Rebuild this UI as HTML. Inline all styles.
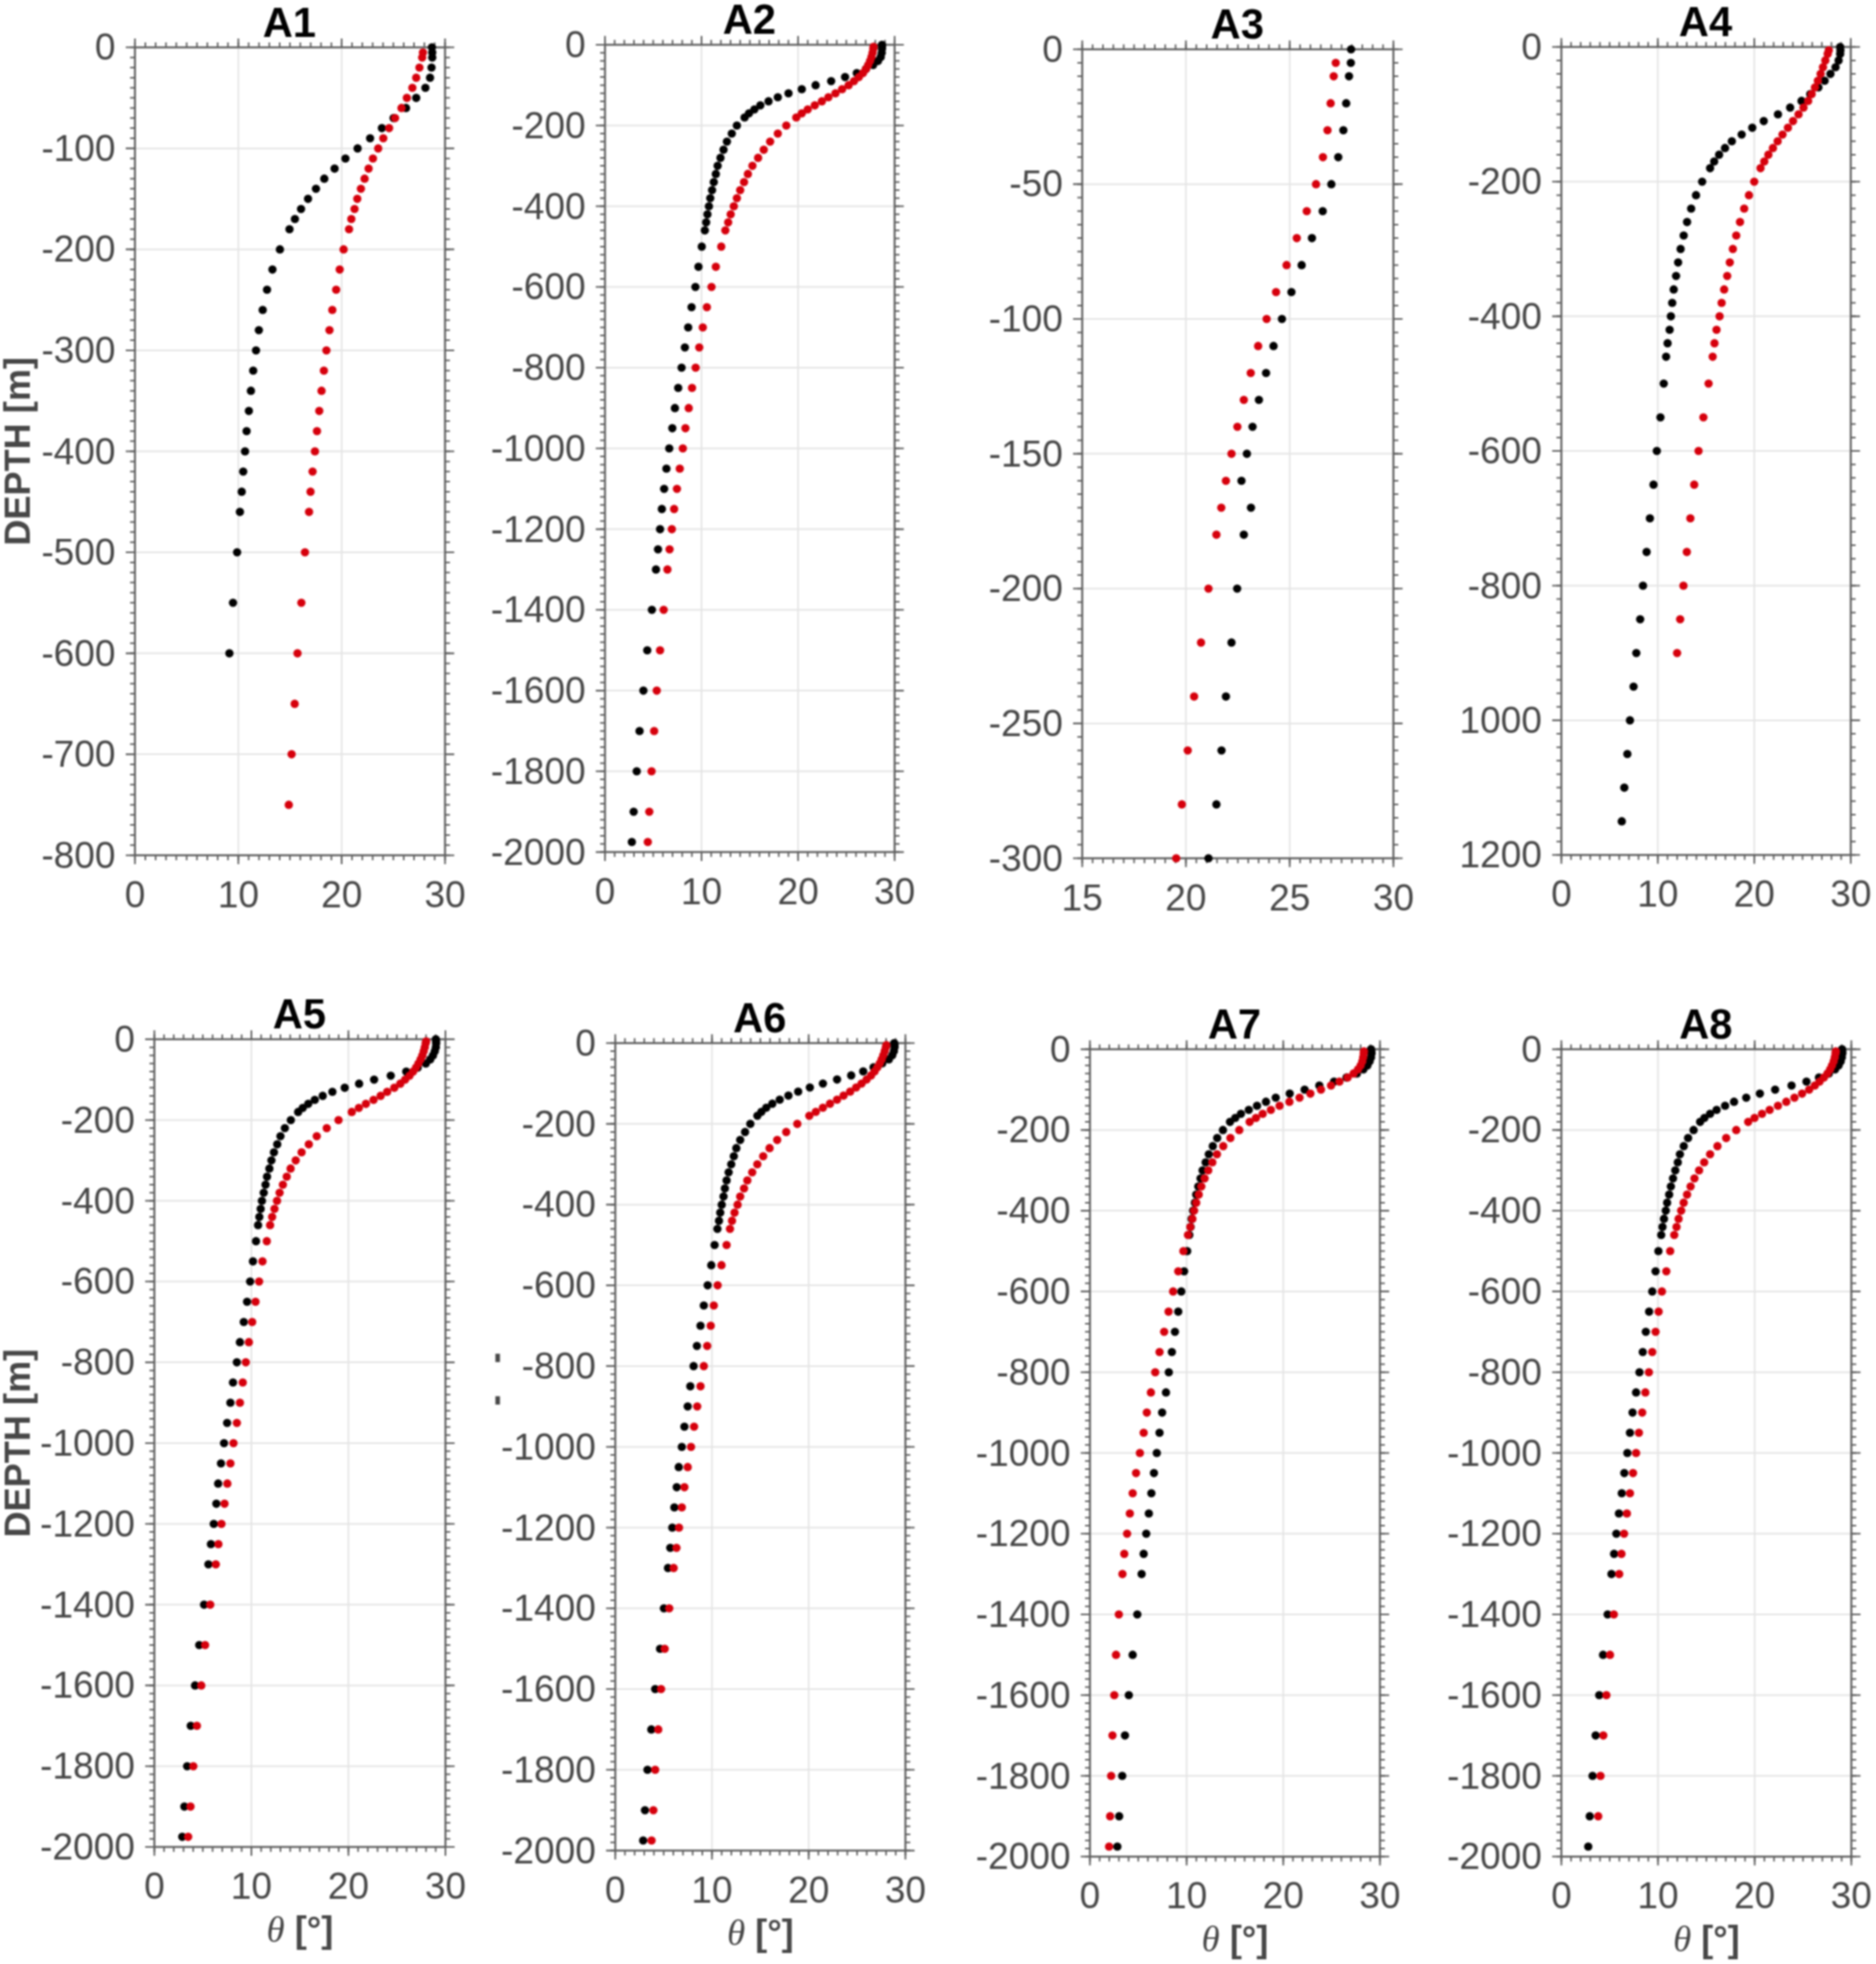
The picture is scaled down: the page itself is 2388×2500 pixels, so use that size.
<!DOCTYPE html>
<html lang="en"><head><meta charset="utf-8"><title>Temperature profiles A1-A8</title>
<style>html,body{margin:0;padding:0;background:#fff}svg{display:block;filter:blur(1px)}text{font-family:"Liberation Sans",sans-serif}.tk{font-size:47.2px;fill:#474747}.tt{font-size:53px;font-weight:bold;fill:#000;text-anchor:middle}.lb{font-size:46px;font-weight:bold;fill:#474747;text-anchor:middle}.th{font-family:"Liberation Serif",serif;font-style:italic;font-weight:normal;font-size:47px}</style></head><body>
<svg width="2388" height="2500" viewBox="0 0 2388 2500">
<rect width="2388" height="2500" fill="#fff"/>
<g id="A1">
<path d="M303.4 60.3V1088.7M434.9 60.3V1088.7M171.8 188.9H566.5M171.8 317.4H566.5M171.8 446H566.5M171.8 574.5H566.5M171.8 703H566.5M171.8 831.6H566.5M171.8 960.1H566.5" stroke="#e4e4e4" stroke-width="2" fill="none"/>
<path d="M171.8 60.3v-6.2M171.8 1088.7v6.2M185 60.3v-6.2M185 1088.7v6.2M198.1 60.3v-6.2M198.1 1088.7v6.2M211.3 60.3v-6.2M211.3 1088.7v6.2M224.4 60.3v-6.2M224.4 1088.7v6.2M237.6 60.3v-6.2M237.6 1088.7v6.2M250.7 60.3v-6.2M250.7 1088.7v6.2M263.9 60.3v-6.2M263.9 1088.7v6.2M277.1 60.3v-6.2M277.1 1088.7v6.2M290.2 60.3v-6.2M290.2 1088.7v6.2M303.4 60.3v-6.2M303.4 1088.7v6.2M316.5 60.3v-6.2M316.5 1088.7v6.2M329.7 60.3v-6.2M329.7 1088.7v6.2M342.8 60.3v-6.2M342.8 1088.7v6.2M356 60.3v-6.2M356 1088.7v6.2M369.1 60.3v-6.2M369.1 1088.7v6.2M382.3 60.3v-6.2M382.3 1088.7v6.2M395.5 60.3v-6.2M395.5 1088.7v6.2M408.6 60.3v-6.2M408.6 1088.7v6.2M421.8 60.3v-6.2M421.8 1088.7v6.2M434.9 60.3v-6.2M434.9 1088.7v6.2M448.1 60.3v-6.2M448.1 1088.7v6.2M461.2 60.3v-6.2M461.2 1088.7v6.2M474.4 60.3v-6.2M474.4 1088.7v6.2M487.6 60.3v-6.2M487.6 1088.7v6.2M500.7 60.3v-6.2M500.7 1088.7v6.2M513.9 60.3v-6.2M513.9 1088.7v6.2M527 60.3v-6.2M527 1088.7v6.2M540.2 60.3v-6.2M540.2 1088.7v6.2M553.3 60.3v-6.2M553.3 1088.7v6.2M566.5 60.3v-6.2M566.5 1088.7v6.2M171.8 60.3h-6.2M566.5 60.3h6.2M171.8 73.2h-6.2M566.5 73.2h6.2M171.8 86h-6.2M566.5 86h6.2M171.8 98.9h-6.2M566.5 98.9h6.2M171.8 111.7h-6.2M566.5 111.7h6.2M171.8 124.6h-6.2M566.5 124.6h6.2M171.8 137.4h-6.2M566.5 137.4h6.2M171.8 150.3h-6.2M566.5 150.3h6.2M171.8 163.1h-6.2M566.5 163.1h6.2M171.8 176h-6.2M566.5 176h6.2M171.8 188.9h-6.2M566.5 188.9h6.2M171.8 201.7h-6.2M566.5 201.7h6.2M171.8 214.6h-6.2M566.5 214.6h6.2M171.8 227.4h-6.2M566.5 227.4h6.2M171.8 240.3h-6.2M566.5 240.3h6.2M171.8 253.1h-6.2M566.5 253.1h6.2M171.8 266h-6.2M566.5 266h6.2M171.8 278.8h-6.2M566.5 278.8h6.2M171.8 291.7h-6.2M566.5 291.7h6.2M171.8 304.5h-6.2M566.5 304.5h6.2M171.8 317.4h-6.2M566.5 317.4h6.2M171.8 330.3h-6.2M566.5 330.3h6.2M171.8 343.1h-6.2M566.5 343.1h6.2M171.8 356h-6.2M566.5 356h6.2M171.8 368.8h-6.2M566.5 368.8h6.2M171.8 381.7h-6.2M566.5 381.7h6.2M171.8 394.5h-6.2M566.5 394.5h6.2M171.8 407.4h-6.2M566.5 407.4h6.2M171.8 420.2h-6.2M566.5 420.2h6.2M171.8 433.1h-6.2M566.5 433.1h6.2M171.8 446h-6.2M566.5 446h6.2M171.8 458.8h-6.2M566.5 458.8h6.2M171.8 471.7h-6.2M566.5 471.7h6.2M171.8 484.5h-6.2M566.5 484.5h6.2M171.8 497.4h-6.2M566.5 497.4h6.2M171.8 510.2h-6.2M566.5 510.2h6.2M171.8 523.1h-6.2M566.5 523.1h6.2M171.8 535.9h-6.2M566.5 535.9h6.2M171.8 548.8h-6.2M566.5 548.8h6.2M171.8 561.6h-6.2M566.5 561.6h6.2M171.8 574.5h-6.2M566.5 574.5h6.2M171.8 587.4h-6.2M566.5 587.4h6.2M171.8 600.2h-6.2M566.5 600.2h6.2M171.8 613.1h-6.2M566.5 613.1h6.2M171.8 625.9h-6.2M566.5 625.9h6.2M171.8 638.8h-6.2M566.5 638.8h6.2M171.8 651.6h-6.2M566.5 651.6h6.2M171.8 664.5h-6.2M566.5 664.5h6.2M171.8 677.3h-6.2M566.5 677.3h6.2M171.8 690.2h-6.2M566.5 690.2h6.2M171.8 703h-6.2M566.5 703h6.2M171.8 715.9h-6.2M566.5 715.9h6.2M171.8 728.8h-6.2M566.5 728.8h6.2M171.8 741.6h-6.2M566.5 741.6h6.2M171.8 754.5h-6.2M566.5 754.5h6.2M171.8 767.3h-6.2M566.5 767.3h6.2M171.8 780.2h-6.2M566.5 780.2h6.2M171.8 793h-6.2M566.5 793h6.2M171.8 805.9h-6.2M566.5 805.9h6.2M171.8 818.7h-6.2M566.5 818.7h6.2M171.8 831.6h-6.2M566.5 831.6h6.2M171.8 844.5h-6.2M566.5 844.5h6.2M171.8 857.3h-6.2M566.5 857.3h6.2M171.8 870.2h-6.2M566.5 870.2h6.2M171.8 883h-6.2M566.5 883h6.2M171.8 895.9h-6.2M566.5 895.9h6.2M171.8 908.7h-6.2M566.5 908.7h6.2M171.8 921.6h-6.2M566.5 921.6h6.2M171.8 934.4h-6.2M566.5 934.4h6.2M171.8 947.3h-6.2M566.5 947.3h6.2M171.8 960.1h-6.2M566.5 960.1h6.2M171.8 973h-6.2M566.5 973h6.2M171.8 985.9h-6.2M566.5 985.9h6.2M171.8 998.7h-6.2M566.5 998.7h6.2M171.8 1011.6h-6.2M566.5 1011.6h6.2M171.8 1024.4h-6.2M566.5 1024.4h6.2M171.8 1037.3h-6.2M566.5 1037.3h6.2M171.8 1050.1h-6.2M566.5 1050.1h6.2M171.8 1063h-6.2M566.5 1063h6.2M171.8 1075.8h-6.2M566.5 1075.8h6.2M171.8 1088.7h-6.2M566.5 1088.7h6.2" stroke="#5e5e5e" stroke-width="2" fill="none"/>
<path d="M171.8 60.3v-11.3M171.8 1088.7v11.3M303.4 60.3v-11.3M303.4 1088.7v11.3M434.9 60.3v-11.3M434.9 1088.7v11.3M566.5 60.3v-11.3M566.5 1088.7v11.3M171.8 60.3h-11.7M566.5 60.3h11.7M171.8 188.9h-11.7M566.5 188.9h11.7M171.8 317.4h-11.7M566.5 317.4h11.7M171.8 446h-11.7M566.5 446h11.7M171.8 574.5h-11.7M566.5 574.5h11.7M171.8 703h-11.7M566.5 703h11.7M171.8 831.6h-11.7M566.5 831.6h11.7M171.8 960.1h-11.7M566.5 960.1h11.7M171.8 1088.7h-11.7M566.5 1088.7h11.7" stroke="#5e5e5e" stroke-width="2.1" fill="none"/>
<rect x="171.8" y="60.3" width="394.7" height="1028.4" fill="none" stroke="#5e5e5e" stroke-width="2.5"/>
<g fill="#000"><circle cx="549.8" cy="60.3" r="5.3"/><circle cx="550.2" cy="66.7" r="5.3"/><circle cx="550.2" cy="73.2" r="5.3"/><circle cx="549.3" cy="86" r="5.3"/><circle cx="547.4" cy="98.9" r="5.3"/><circle cx="541.5" cy="111.7" r="5.3"/><circle cx="529.8" cy="124.6" r="5.3"/><circle cx="516.8" cy="137.4" r="5.3"/><circle cx="501" cy="150.3" r="5.3"/><circle cx="486.1" cy="163.1" r="5.3"/><circle cx="471.1" cy="176" r="5.3"/><circle cx="455.2" cy="188.9" r="5.3"/><circle cx="439.7" cy="201.7" r="5.3"/><circle cx="425.9" cy="214.6" r="5.3"/><circle cx="412.8" cy="227.4" r="5.3"/><circle cx="402.2" cy="240.3" r="5.3"/><circle cx="392.1" cy="253.1" r="5.3"/><circle cx="383.2" cy="266" r="5.3"/><circle cx="375.4" cy="278.8" r="5.3"/><circle cx="368.5" cy="291.7" r="5.3"/><circle cx="356.3" cy="317.4" r="5.3"/><circle cx="346.8" cy="343.1" r="5.3"/><circle cx="339.9" cy="368.8" r="5.3"/><circle cx="334.4" cy="394.5" r="5.3"/><circle cx="329.5" cy="420.2" r="5.3"/><circle cx="325.9" cy="446" r="5.3"/><circle cx="322.3" cy="471.7" r="5.3"/><circle cx="319.4" cy="497.4" r="5.3"/><circle cx="316.8" cy="523.1" r="5.3"/><circle cx="313.9" cy="548.8" r="5.3"/><circle cx="311.9" cy="574.5" r="5.3"/><circle cx="309.6" cy="600.2" r="5.3"/><circle cx="307.7" cy="625.9" r="5.3"/><circle cx="305.4" cy="651.6" r="5.3"/><circle cx="301.8" cy="703" r="5.3"/><circle cx="296.6" cy="767.3" r="5.3"/><circle cx="292" cy="831.6" r="5.3"/></g>
<g fill="#d6000c"><circle cx="538.4" cy="66.7" r="5.3"/><circle cx="537.4" cy="73.2" r="5.3"/><circle cx="533.9" cy="86" r="5.3"/><circle cx="529.8" cy="98.9" r="5.3"/><circle cx="524.9" cy="111.7" r="5.3"/><circle cx="517.9" cy="124.6" r="5.3"/><circle cx="511.1" cy="137.4" r="5.3"/><circle cx="502.9" cy="150.3" r="5.3"/><circle cx="495.3" cy="163.1" r="5.3"/><circle cx="487.9" cy="176" r="5.3"/><circle cx="481.4" cy="188.9" r="5.3"/><circle cx="474.7" cy="201.7" r="5.3"/><circle cx="469.2" cy="214.6" r="5.3"/><circle cx="464.1" cy="227.4" r="5.3"/><circle cx="459.4" cy="240.3" r="5.3"/><circle cx="454.8" cy="253.1" r="5.3"/><circle cx="451.3" cy="266" r="5.3"/><circle cx="447.2" cy="278.8" r="5.3"/><circle cx="444.3" cy="291.7" r="5.3"/><circle cx="437.4" cy="317.4" r="5.3"/><circle cx="432.4" cy="343.1" r="5.3"/><circle cx="427.9" cy="368.8" r="5.3"/><circle cx="423" cy="394.5" r="5.3"/><circle cx="419.4" cy="420.2" r="5.3"/><circle cx="415.5" cy="446" r="5.3"/><circle cx="412.3" cy="471.7" r="5.3"/><circle cx="409.3" cy="497.4" r="5.3"/><circle cx="406.4" cy="523.1" r="5.3"/><circle cx="403.5" cy="548.8" r="5.3"/><circle cx="400.9" cy="574.5" r="5.3"/><circle cx="397.9" cy="600.2" r="5.3"/><circle cx="395.3" cy="625.9" r="5.3"/><circle cx="393.4" cy="651.6" r="5.3"/><circle cx="388.2" cy="703" r="5.3"/><circle cx="383.6" cy="767.3" r="5.3"/><circle cx="378.7" cy="831.6" r="5.3"/><circle cx="375.1" cy="895.9" r="5.3"/><circle cx="371.2" cy="960.1" r="5.3"/><circle cx="367.6" cy="1024.4" r="5.3"/></g>
<g class="tk" text-anchor="end"><text x="147.1" y="76.3">0</text><text x="147.1" y="204.9">-100</text><text x="147.1" y="333.4">-200</text><text x="147.1" y="462">-300</text><text x="147.1" y="590.5">-400</text><text x="147.1" y="719">-500</text><text x="147.1" y="847.6">-600</text><text x="147.1" y="976.1">-700</text><text x="147.1" y="1104.7">-800</text></g>
<g class="tk" text-anchor="middle"><text x="171.8" y="1154.7">0</text><text x="303.4" y="1154.7">10</text><text x="434.9" y="1154.7">20</text><text x="566.5" y="1154.7">30</text></g>
<text class="tt" x="368.4" y="46.7">A1</text>
<text class="lb" transform="translate(38 574.5) rotate(-90)">DEPTH [m]</text>
</g>
<g id="A2">
<path d="M893 57V1084.6M1015.9 57V1084.6M770.1 159.8H1138.8M770.1 262.5H1138.8M770.1 365.3H1138.8M770.1 468H1138.8M770.1 570.8H1138.8M770.1 673.6H1138.8M770.1 776.3H1138.8M770.1 879.1H1138.8M770.1 981.8H1138.8" stroke="#e4e4e4" stroke-width="2" fill="none"/>
<path d="M770.1 57v-6.2M770.1 1084.6v6.2M782.4 57v-6.2M782.4 1084.6v6.2M794.7 57v-6.2M794.7 1084.6v6.2M807 57v-6.2M807 1084.6v6.2M819.3 57v-6.2M819.3 1084.6v6.2M831.5 57v-6.2M831.5 1084.6v6.2M843.8 57v-6.2M843.8 1084.6v6.2M856.1 57v-6.2M856.1 1084.6v6.2M868.4 57v-6.2M868.4 1084.6v6.2M880.7 57v-6.2M880.7 1084.6v6.2M893 57v-6.2M893 1084.6v6.2M905.3 57v-6.2M905.3 1084.6v6.2M917.6 57v-6.2M917.6 1084.6v6.2M929.9 57v-6.2M929.9 1084.6v6.2M942.2 57v-6.2M942.2 1084.6v6.2M954.5 57v-6.2M954.5 1084.6v6.2M966.7 57v-6.2M966.7 1084.6v6.2M979 57v-6.2M979 1084.6v6.2M991.3 57v-6.2M991.3 1084.6v6.2M1003.6 57v-6.2M1003.6 1084.6v6.2M1015.9 57v-6.2M1015.9 1084.6v6.2M1028.2 57v-6.2M1028.2 1084.6v6.2M1040.5 57v-6.2M1040.5 1084.6v6.2M1052.8 57v-6.2M1052.8 1084.6v6.2M1065.1 57v-6.2M1065.1 1084.6v6.2M1077.3 57v-6.2M1077.3 1084.6v6.2M1089.6 57v-6.2M1089.6 1084.6v6.2M1101.9 57v-6.2M1101.9 1084.6v6.2M1114.2 57v-6.2M1114.2 1084.6v6.2M1126.5 57v-6.2M1126.5 1084.6v6.2M1138.8 57v-6.2M1138.8 1084.6v6.2M770.1 57h-6.2M1138.8 57h6.2M770.1 67.3h-6.2M1138.8 67.3h6.2M770.1 77.6h-6.2M1138.8 77.6h6.2M770.1 87.8h-6.2M1138.8 87.8h6.2M770.1 98.1h-6.2M1138.8 98.1h6.2M770.1 108.4h-6.2M1138.8 108.4h6.2M770.1 118.7h-6.2M1138.8 118.7h6.2M770.1 128.9h-6.2M1138.8 128.9h6.2M770.1 139.2h-6.2M1138.8 139.2h6.2M770.1 149.5h-6.2M1138.8 149.5h6.2M770.1 159.8h-6.2M1138.8 159.8h6.2M770.1 170h-6.2M1138.8 170h6.2M770.1 180.3h-6.2M1138.8 180.3h6.2M770.1 190.6h-6.2M1138.8 190.6h6.2M770.1 200.9h-6.2M1138.8 200.9h6.2M770.1 211.1h-6.2M1138.8 211.1h6.2M770.1 221.4h-6.2M1138.8 221.4h6.2M770.1 231.7h-6.2M1138.8 231.7h6.2M770.1 242h-6.2M1138.8 242h6.2M770.1 252.2h-6.2M1138.8 252.2h6.2M770.1 262.5h-6.2M1138.8 262.5h6.2M770.1 272.8h-6.2M1138.8 272.8h6.2M770.1 283.1h-6.2M1138.8 283.1h6.2M770.1 293.3h-6.2M1138.8 293.3h6.2M770.1 303.6h-6.2M1138.8 303.6h6.2M770.1 313.9h-6.2M1138.8 313.9h6.2M770.1 324.2h-6.2M1138.8 324.2h6.2M770.1 334.5h-6.2M1138.8 334.5h6.2M770.1 344.7h-6.2M1138.8 344.7h6.2M770.1 355h-6.2M1138.8 355h6.2M770.1 365.3h-6.2M1138.8 365.3h6.2M770.1 375.6h-6.2M1138.8 375.6h6.2M770.1 385.8h-6.2M1138.8 385.8h6.2M770.1 396.1h-6.2M1138.8 396.1h6.2M770.1 406.4h-6.2M1138.8 406.4h6.2M770.1 416.7h-6.2M1138.8 416.7h6.2M770.1 426.9h-6.2M1138.8 426.9h6.2M770.1 437.2h-6.2M1138.8 437.2h6.2M770.1 447.5h-6.2M1138.8 447.5h6.2M770.1 457.8h-6.2M1138.8 457.8h6.2M770.1 468h-6.2M1138.8 468h6.2M770.1 478.3h-6.2M1138.8 478.3h6.2M770.1 488.6h-6.2M1138.8 488.6h6.2M770.1 498.9h-6.2M1138.8 498.9h6.2M770.1 509.1h-6.2M1138.8 509.1h6.2M770.1 519.4h-6.2M1138.8 519.4h6.2M770.1 529.7h-6.2M1138.8 529.7h6.2M770.1 540h-6.2M1138.8 540h6.2M770.1 550.2h-6.2M1138.8 550.2h6.2M770.1 560.5h-6.2M1138.8 560.5h6.2M770.1 570.8h-6.2M1138.8 570.8h6.2M770.1 581.1h-6.2M1138.8 581.1h6.2M770.1 591.4h-6.2M1138.8 591.4h6.2M770.1 601.6h-6.2M1138.8 601.6h6.2M770.1 611.9h-6.2M1138.8 611.9h6.2M770.1 622.2h-6.2M1138.8 622.2h6.2M770.1 632.5h-6.2M1138.8 632.5h6.2M770.1 642.7h-6.2M1138.8 642.7h6.2M770.1 653h-6.2M1138.8 653h6.2M770.1 663.3h-6.2M1138.8 663.3h6.2M770.1 673.6h-6.2M1138.8 673.6h6.2M770.1 683.8h-6.2M1138.8 683.8h6.2M770.1 694.1h-6.2M1138.8 694.1h6.2M770.1 704.4h-6.2M1138.8 704.4h6.2M770.1 714.7h-6.2M1138.8 714.7h6.2M770.1 724.9h-6.2M1138.8 724.9h6.2M770.1 735.2h-6.2M1138.8 735.2h6.2M770.1 745.5h-6.2M1138.8 745.5h6.2M770.1 755.8h-6.2M1138.8 755.8h6.2M770.1 766h-6.2M1138.8 766h6.2M770.1 776.3h-6.2M1138.8 776.3h6.2M770.1 786.6h-6.2M1138.8 786.6h6.2M770.1 796.9h-6.2M1138.8 796.9h6.2M770.1 807.1h-6.2M1138.8 807.1h6.2M770.1 817.4h-6.2M1138.8 817.4h6.2M770.1 827.7h-6.2M1138.8 827.7h6.2M770.1 838h-6.2M1138.8 838h6.2M770.1 848.3h-6.2M1138.8 848.3h6.2M770.1 858.5h-6.2M1138.8 858.5h6.2M770.1 868.8h-6.2M1138.8 868.8h6.2M770.1 879.1h-6.2M1138.8 879.1h6.2M770.1 889.4h-6.2M1138.8 889.4h6.2M770.1 899.6h-6.2M1138.8 899.6h6.2M770.1 909.9h-6.2M1138.8 909.9h6.2M770.1 920.2h-6.2M1138.8 920.2h6.2M770.1 930.5h-6.2M1138.8 930.5h6.2M770.1 940.7h-6.2M1138.8 940.7h6.2M770.1 951h-6.2M1138.8 951h6.2M770.1 961.3h-6.2M1138.8 961.3h6.2M770.1 971.6h-6.2M1138.8 971.6h6.2M770.1 981.8h-6.2M1138.8 981.8h6.2M770.1 992.1h-6.2M1138.8 992.1h6.2M770.1 1002.4h-6.2M1138.8 1002.4h6.2M770.1 1012.7h-6.2M1138.8 1012.7h6.2M770.1 1022.9h-6.2M1138.8 1022.9h6.2M770.1 1033.2h-6.2M1138.8 1033.2h6.2M770.1 1043.5h-6.2M1138.8 1043.5h6.2M770.1 1053.8h-6.2M1138.8 1053.8h6.2M770.1 1064h-6.2M1138.8 1064h6.2M770.1 1074.3h-6.2M1138.8 1074.3h6.2M770.1 1084.6h-6.2M1138.8 1084.6h6.2" stroke="#5e5e5e" stroke-width="2" fill="none"/>
<path d="M770.1 57v-11.3M770.1 1084.6v11.3M893 57v-11.3M893 1084.6v11.3M1015.9 57v-11.3M1015.9 1084.6v11.3M1138.8 57v-11.3M1138.8 1084.6v11.3M770.1 57h-11.7M1138.8 57h11.7M770.1 159.8h-11.7M1138.8 159.8h11.7M770.1 262.5h-11.7M1138.8 262.5h11.7M770.1 365.3h-11.7M1138.8 365.3h11.7M770.1 468h-11.7M1138.8 468h11.7M770.1 570.8h-11.7M1138.8 570.8h11.7M770.1 673.6h-11.7M1138.8 673.6h11.7M770.1 776.3h-11.7M1138.8 776.3h11.7M770.1 879.1h-11.7M1138.8 879.1h11.7M770.1 981.8h-11.7M1138.8 981.8h11.7M770.1 1084.6h-11.7M1138.8 1084.6h11.7" stroke="#5e5e5e" stroke-width="2.1" fill="none"/>
<rect x="770.1" y="57" width="368.7" height="1027.6" fill="none" stroke="#5e5e5e" stroke-width="2.5"/>
<g fill="#000"><circle cx="1122.7" cy="57" r="5.3"/><circle cx="1122.7" cy="59.6" r="5.3"/><circle cx="1122.7" cy="62.1" r="5.3"/><circle cx="1122.4" cy="67.3" r="5.3"/><circle cx="1121.1" cy="72.4" r="5.3"/><circle cx="1117.6" cy="77.6" r="5.3"/><circle cx="1111.4" cy="82.7" r="5.3"/><circle cx="1102.3" cy="87.8" r="5.3"/><circle cx="1090.6" cy="93" r="5.3"/><circle cx="1075.7" cy="98.1" r="5.3"/><circle cx="1058" cy="103.2" r="5.3"/><circle cx="1038.2" cy="108.4" r="5.3"/><circle cx="1020.6" cy="113.5" r="5.3"/><circle cx="1003.7" cy="118.7" r="5.3"/><circle cx="990.1" cy="123.8" r="5.3"/><circle cx="978.3" cy="128.9" r="5.3"/><circle cx="967.9" cy="134.1" r="5.3"/><circle cx="960.3" cy="139.2" r="5.3"/><circle cx="953.4" cy="144.3" r="5.3"/><circle cx="947.8" cy="149.5" r="5.3"/><circle cx="938" cy="159.8" r="5.3"/><circle cx="931.5" cy="170" r="5.3"/><circle cx="925.3" cy="180.3" r="5.3"/><circle cx="921" cy="190.6" r="5.3"/><circle cx="917.1" cy="200.9" r="5.3"/><circle cx="913.5" cy="211.1" r="5.3"/><circle cx="911.2" cy="221.4" r="5.3"/><circle cx="908.6" cy="231.7" r="5.3"/><circle cx="906.4" cy="242" r="5.3"/><circle cx="904.1" cy="252.2" r="5.3"/><circle cx="902.4" cy="262.5" r="5.3"/><circle cx="900.5" cy="272.8" r="5.3"/><circle cx="898.9" cy="283.1" r="5.3"/><circle cx="897.2" cy="293.3" r="5.3"/><circle cx="893.3" cy="313.9" r="5.3"/><circle cx="889.1" cy="339.6" r="5.3"/><circle cx="885.2" cy="365.3" r="5.3"/><circle cx="880.3" cy="391" r="5.3"/><circle cx="876" cy="416.7" r="5.3"/><circle cx="871.8" cy="442.3" r="5.3"/><circle cx="867.6" cy="468" r="5.3"/><circle cx="863.3" cy="493.7" r="5.3"/><circle cx="859.1" cy="519.4" r="5.3"/><circle cx="855.8" cy="545.1" r="5.3"/><circle cx="851.9" cy="570.8" r="5.3"/><circle cx="848.3" cy="596.5" r="5.3"/><circle cx="845.4" cy="622.2" r="5.3"/><circle cx="842.5" cy="647.9" r="5.3"/><circle cx="840.2" cy="673.6" r="5.3"/><circle cx="837.6" cy="699.2" r="5.3"/><circle cx="835" cy="724.9" r="5.3"/><circle cx="829.8" cy="776.3" r="5.3"/><circle cx="823.9" cy="827.7" r="5.3"/><circle cx="819" cy="879.1" r="5.3"/><circle cx="814.1" cy="930.5" r="5.3"/><circle cx="810.5" cy="981.8" r="5.3"/><circle cx="806.6" cy="1033.2" r="5.3"/><circle cx="804.3" cy="1071.8" r="5.3"/></g>
<g fill="#d6000c"><circle cx="1112" cy="59.6" r="5.3"/><circle cx="1111.6" cy="62.1" r="5.3"/><circle cx="1110.7" cy="67.3" r="5.3"/><circle cx="1109.3" cy="72.4" r="5.3"/><circle cx="1107.5" cy="77.6" r="5.3"/><circle cx="1105.1" cy="82.7" r="5.3"/><circle cx="1102.3" cy="87.8" r="5.3"/><circle cx="1098.5" cy="93" r="5.3"/><circle cx="1093.3" cy="98.1" r="5.3"/><circle cx="1087.1" cy="103.2" r="5.3"/><circle cx="1080.2" cy="108.4" r="5.3"/><circle cx="1071.9" cy="113.5" r="5.3"/><circle cx="1063.5" cy="118.7" r="5.3"/><circle cx="1054.5" cy="123.8" r="5.3"/><circle cx="1046.2" cy="128.9" r="5.3"/><circle cx="1037.2" cy="134.1" r="5.3"/><circle cx="1028.2" cy="139.2" r="5.3"/><circle cx="1020.6" cy="144.3" r="5.3"/><circle cx="1013.6" cy="149.5" r="5.3"/><circle cx="1000.9" cy="159.8" r="5.3"/><circle cx="990.1" cy="170" r="5.3"/><circle cx="980.3" cy="180.3" r="5.3"/><circle cx="972.2" cy="190.6" r="5.3"/><circle cx="965" cy="200.9" r="5.3"/><circle cx="957.8" cy="211.1" r="5.3"/><circle cx="952" cy="221.4" r="5.3"/><circle cx="947.1" cy="231.7" r="5.3"/><circle cx="942.2" cy="242" r="5.3"/><circle cx="938" cy="252.2" r="5.3"/><circle cx="934.1" cy="262.5" r="5.3"/><circle cx="930.1" cy="272.8" r="5.3"/><circle cx="926.9" cy="283.1" r="5.3"/><circle cx="923.3" cy="293.3" r="5.3"/><circle cx="918.1" cy="313.9" r="5.3"/><circle cx="911.2" cy="339.6" r="5.3"/><circle cx="905.7" cy="365.3" r="5.3"/><circle cx="899.8" cy="391" r="5.3"/><circle cx="894.6" cy="416.7" r="5.3"/><circle cx="890.1" cy="442.3" r="5.3"/><circle cx="885.5" cy="468" r="5.3"/><circle cx="880.9" cy="493.7" r="5.3"/><circle cx="876.7" cy="519.4" r="5.3"/><circle cx="872.5" cy="545.1" r="5.3"/><circle cx="869.2" cy="570.8" r="5.3"/><circle cx="865.3" cy="596.5" r="5.3"/><circle cx="861.7" cy="622.2" r="5.3"/><circle cx="858.1" cy="647.9" r="5.3"/><circle cx="855.2" cy="673.6" r="5.3"/><circle cx="852.3" cy="699.2" r="5.3"/><circle cx="849.6" cy="724.9" r="5.3"/><circle cx="844.8" cy="776.3" r="5.3"/><circle cx="840.2" cy="827.7" r="5.3"/><circle cx="836" cy="879.1" r="5.3"/><circle cx="832.7" cy="930.5" r="5.3"/><circle cx="829.4" cy="981.8" r="5.3"/><circle cx="826.5" cy="1033.2" r="5.3"/><circle cx="824.6" cy="1071.8" r="5.3"/></g>
<g class="tk" text-anchor="end"><text x="745.4" y="73">0</text><text x="745.4" y="175.8">-200</text><text x="745.4" y="278.5">-400</text><text x="745.4" y="381.3">-600</text><text x="745.4" y="484">-800</text><text x="745.4" y="586.8">-1000</text><text x="745.4" y="689.6">-1200</text><text x="745.4" y="792.3">-1400</text><text x="745.4" y="895.1">-1600</text><text x="745.4" y="997.8">-1800</text><text x="745.4" y="1100.6">-2000</text></g>
<g class="tk" text-anchor="middle"><text x="770.1" y="1150.6">0</text><text x="893" y="1150.6">10</text><text x="1015.9" y="1150.6">20</text><text x="1138.8" y="1150.6">30</text></g>
<text class="tt" x="953.8" y="43.4">A2</text>
</g>
<g id="A3">
<path d="M1509.6 62.8V1092.5M1641.7 62.8V1092.5M1377.6 234.4H1773.7M1377.6 406H1773.7M1377.6 577.6H1773.7M1377.6 749.3H1773.7M1377.6 920.9H1773.7" stroke="#e4e4e4" stroke-width="2" fill="none"/>
<path d="M1377.6 62.8v-6.2M1377.6 1092.5v6.2M1390.8 62.8v-6.2M1390.8 1092.5v6.2M1404 62.8v-6.2M1404 1092.5v6.2M1417.2 62.8v-6.2M1417.2 1092.5v6.2M1430.4 62.8v-6.2M1430.4 1092.5v6.2M1443.6 62.8v-6.2M1443.6 1092.5v6.2M1456.8 62.8v-6.2M1456.8 1092.5v6.2M1470 62.8v-6.2M1470 1092.5v6.2M1483.2 62.8v-6.2M1483.2 1092.5v6.2M1496.4 62.8v-6.2M1496.4 1092.5v6.2M1509.6 62.8v-6.2M1509.6 1092.5v6.2M1522.8 62.8v-6.2M1522.8 1092.5v6.2M1536 62.8v-6.2M1536 1092.5v6.2M1549.2 62.8v-6.2M1549.2 1092.5v6.2M1562.4 62.8v-6.2M1562.4 1092.5v6.2M1575.7 62.8v-6.2M1575.7 1092.5v6.2M1588.9 62.8v-6.2M1588.9 1092.5v6.2M1602.1 62.8v-6.2M1602.1 1092.5v6.2M1615.3 62.8v-6.2M1615.3 1092.5v6.2M1628.5 62.8v-6.2M1628.5 1092.5v6.2M1641.7 62.8v-6.2M1641.7 1092.5v6.2M1654.9 62.8v-6.2M1654.9 1092.5v6.2M1668.1 62.8v-6.2M1668.1 1092.5v6.2M1681.3 62.8v-6.2M1681.3 1092.5v6.2M1694.5 62.8v-6.2M1694.5 1092.5v6.2M1707.7 62.8v-6.2M1707.7 1092.5v6.2M1720.9 62.8v-6.2M1720.9 1092.5v6.2M1734.1 62.8v-6.2M1734.1 1092.5v6.2M1747.3 62.8v-6.2M1747.3 1092.5v6.2M1760.5 62.8v-6.2M1760.5 1092.5v6.2M1773.7 62.8v-6.2M1773.7 1092.5v6.2M1377.6 62.8h-6.2M1773.7 62.8h6.2M1377.6 80h-6.2M1773.7 80h6.2M1377.6 97.1h-6.2M1773.7 97.1h6.2M1377.6 114.3h-6.2M1773.7 114.3h6.2M1377.6 131.4h-6.2M1773.7 131.4h6.2M1377.6 148.6h-6.2M1773.7 148.6h6.2M1377.6 165.8h-6.2M1773.7 165.8h6.2M1377.6 182.9h-6.2M1773.7 182.9h6.2M1377.6 200.1h-6.2M1773.7 200.1h6.2M1377.6 217.3h-6.2M1773.7 217.3h6.2M1377.6 234.4h-6.2M1773.7 234.4h6.2M1377.6 251.6h-6.2M1773.7 251.6h6.2M1377.6 268.7h-6.2M1773.7 268.7h6.2M1377.6 285.9h-6.2M1773.7 285.9h6.2M1377.6 303.1h-6.2M1773.7 303.1h6.2M1377.6 320.2h-6.2M1773.7 320.2h6.2M1377.6 337.4h-6.2M1773.7 337.4h6.2M1377.6 354.5h-6.2M1773.7 354.5h6.2M1377.6 371.7h-6.2M1773.7 371.7h6.2M1377.6 388.9h-6.2M1773.7 388.9h6.2M1377.6 406h-6.2M1773.7 406h6.2M1377.6 423.2h-6.2M1773.7 423.2h6.2M1377.6 440.4h-6.2M1773.7 440.4h6.2M1377.6 457.5h-6.2M1773.7 457.5h6.2M1377.6 474.7h-6.2M1773.7 474.7h6.2M1377.6 491.8h-6.2M1773.7 491.8h6.2M1377.6 509h-6.2M1773.7 509h6.2M1377.6 526.2h-6.2M1773.7 526.2h6.2M1377.6 543.3h-6.2M1773.7 543.3h6.2M1377.6 560.5h-6.2M1773.7 560.5h6.2M1377.6 577.6h-6.2M1773.7 577.6h6.2M1377.6 594.8h-6.2M1773.7 594.8h6.2M1377.6 612h-6.2M1773.7 612h6.2M1377.6 629.1h-6.2M1773.7 629.1h6.2M1377.6 646.3h-6.2M1773.7 646.3h6.2M1377.6 663.5h-6.2M1773.7 663.5h6.2M1377.6 680.6h-6.2M1773.7 680.6h6.2M1377.6 697.8h-6.2M1773.7 697.8h6.2M1377.6 714.9h-6.2M1773.7 714.9h6.2M1377.6 732.1h-6.2M1773.7 732.1h6.2M1377.6 749.3h-6.2M1773.7 749.3h6.2M1377.6 766.4h-6.2M1773.7 766.4h6.2M1377.6 783.6h-6.2M1773.7 783.6h6.2M1377.6 800.8h-6.2M1773.7 800.8h6.2M1377.6 817.9h-6.2M1773.7 817.9h6.2M1377.6 835.1h-6.2M1773.7 835.1h6.2M1377.6 852.2h-6.2M1773.7 852.2h6.2M1377.6 869.4h-6.2M1773.7 869.4h6.2M1377.6 886.6h-6.2M1773.7 886.6h6.2M1377.6 903.7h-6.2M1773.7 903.7h6.2M1377.6 920.9h-6.2M1773.7 920.9h6.2M1377.6 938h-6.2M1773.7 938h6.2M1377.6 955.2h-6.2M1773.7 955.2h6.2M1377.6 972.4h-6.2M1773.7 972.4h6.2M1377.6 989.5h-6.2M1773.7 989.5h6.2M1377.6 1006.7h-6.2M1773.7 1006.7h6.2M1377.6 1023.9h-6.2M1773.7 1023.9h6.2M1377.6 1041h-6.2M1773.7 1041h6.2M1377.6 1058.2h-6.2M1773.7 1058.2h6.2M1377.6 1075.3h-6.2M1773.7 1075.3h6.2M1377.6 1092.5h-6.2M1773.7 1092.5h6.2" stroke="#5e5e5e" stroke-width="2" fill="none"/>
<path d="M1377.6 62.8v-11.3M1377.6 1092.5v11.3M1509.6 62.8v-11.3M1509.6 1092.5v11.3M1641.7 62.8v-11.3M1641.7 1092.5v11.3M1773.7 62.8v-11.3M1773.7 1092.5v11.3M1377.6 62.8h-11.7M1773.7 62.8h11.7M1377.6 234.4h-11.7M1773.7 234.4h11.7M1377.6 406h-11.7M1773.7 406h11.7M1377.6 577.6h-11.7M1773.7 577.6h11.7M1377.6 749.3h-11.7M1773.7 749.3h11.7M1377.6 920.9h-11.7M1773.7 920.9h11.7M1377.6 1092.5h-11.7M1773.7 1092.5h11.7" stroke="#5e5e5e" stroke-width="2.1" fill="none"/>
<rect x="1377.6" y="62.8" width="396.1" height="1029.7" fill="none" stroke="#5e5e5e" stroke-width="2.5"/>
<g fill="#000"><circle cx="1719.8" cy="62.8" r="5.3"/><circle cx="1719.5" cy="80" r="5.3"/><circle cx="1717.2" cy="97.1" r="5.3"/><circle cx="1713.6" cy="131.4" r="5.3"/><circle cx="1710" cy="165.8" r="5.3"/><circle cx="1703.5" cy="200.1" r="5.3"/><circle cx="1694.7" cy="234.4" r="5.3"/><circle cx="1683.7" cy="268.7" r="5.3"/><circle cx="1670" cy="303.1" r="5.3"/><circle cx="1656.9" cy="337.4" r="5.3"/><circle cx="1643.9" cy="371.7" r="5.3"/><circle cx="1631.8" cy="406" r="5.3"/><circle cx="1621.1" cy="440.4" r="5.3"/><circle cx="1611.6" cy="474.7" r="5.3"/><circle cx="1602.5" cy="509" r="5.3"/><circle cx="1594.4" cy="543.3" r="5.3"/><circle cx="1587.2" cy="577.6" r="5.3"/><circle cx="1580.3" cy="612" r="5.3"/><circle cx="1592.4" cy="646.3" r="5.3"/><circle cx="1583.3" cy="680.6" r="5.3"/><circle cx="1574.8" cy="749.3" r="5.3"/><circle cx="1567.6" cy="817.9" r="5.3"/><circle cx="1560.5" cy="886.6" r="5.3"/><circle cx="1554.9" cy="955.2" r="5.3"/><circle cx="1548.4" cy="1023.9" r="5.3"/><circle cx="1538.3" cy="1092.5" r="5.3"/></g>
<g fill="#d6000c"><circle cx="1700.3" cy="80" r="5.3"/><circle cx="1697.7" cy="97.1" r="5.3"/><circle cx="1693.8" cy="131.4" r="5.3"/><circle cx="1689.8" cy="165.8" r="5.3"/><circle cx="1684" cy="200.1" r="5.3"/><circle cx="1675.2" cy="234.4" r="5.3"/><circle cx="1663.4" cy="268.7" r="5.3"/><circle cx="1650.7" cy="303.1" r="5.3"/><circle cx="1637.7" cy="337.4" r="5.3"/><circle cx="1624.3" cy="371.7" r="5.3"/><circle cx="1612.3" cy="406" r="5.3"/><circle cx="1601.5" cy="440.4" r="5.3"/><circle cx="1592.1" cy="474.7" r="5.3"/><circle cx="1583.3" cy="509" r="5.3"/><circle cx="1575.1" cy="543.3" r="5.3"/><circle cx="1567.6" cy="577.6" r="5.3"/><circle cx="1560.5" cy="612" r="5.3"/><circle cx="1554.6" cy="646.3" r="5.3"/><circle cx="1548.4" cy="680.6" r="5.3"/><circle cx="1538.3" cy="749.3" r="5.3"/><circle cx="1528.8" cy="817.9" r="5.3"/><circle cx="1520" cy="886.6" r="5.3"/><circle cx="1511.9" cy="955.2" r="5.3"/><circle cx="1504.4" cy="1023.9" r="5.3"/><circle cx="1497.2" cy="1092.5" r="5.3"/></g>
<g class="tk" text-anchor="end"><text x="1352.9" y="78.8">0</text><text x="1352.9" y="250.4">-50</text><text x="1352.9" y="422">-100</text><text x="1352.9" y="593.6">-150</text><text x="1352.9" y="765.3">-200</text><text x="1352.9" y="936.9">-250</text><text x="1352.9" y="1108.5">-300</text></g>
<g class="tk" text-anchor="middle"><text x="1377.6" y="1158.5">15</text><text x="1509.6" y="1158.5">20</text><text x="1641.7" y="1158.5">25</text><text x="1773.7" y="1158.5">30</text></g>
<text class="tt" x="1575" y="49.2">A3</text>
</g>
<g id="A4">
<path d="M2110.3 59.8V1088.3M2233.1 59.8V1088.3M1987.5 231.2H2355.9M1987.5 402.6H2355.9M1987.5 574H2355.9M1987.5 745.5H2355.9M1987.5 916.9H2355.9" stroke="#e4e4e4" stroke-width="2" fill="none"/>
<path d="M1987.5 59.8v-6.2M1987.5 1088.3v6.2M1999.8 59.8v-6.2M1999.8 1088.3v6.2M2012.1 59.8v-6.2M2012.1 1088.3v6.2M2024.3 59.8v-6.2M2024.3 1088.3v6.2M2036.6 59.8v-6.2M2036.6 1088.3v6.2M2048.9 59.8v-6.2M2048.9 1088.3v6.2M2061.2 59.8v-6.2M2061.2 1088.3v6.2M2073.5 59.8v-6.2M2073.5 1088.3v6.2M2085.7 59.8v-6.2M2085.7 1088.3v6.2M2098 59.8v-6.2M2098 1088.3v6.2M2110.3 59.8v-6.2M2110.3 1088.3v6.2M2122.6 59.8v-6.2M2122.6 1088.3v6.2M2134.9 59.8v-6.2M2134.9 1088.3v6.2M2147.1 59.8v-6.2M2147.1 1088.3v6.2M2159.4 59.8v-6.2M2159.4 1088.3v6.2M2171.7 59.8v-6.2M2171.7 1088.3v6.2M2184 59.8v-6.2M2184 1088.3v6.2M2196.3 59.8v-6.2M2196.3 1088.3v6.2M2208.5 59.8v-6.2M2208.5 1088.3v6.2M2220.8 59.8v-6.2M2220.8 1088.3v6.2M2233.1 59.8v-6.2M2233.1 1088.3v6.2M2245.4 59.8v-6.2M2245.4 1088.3v6.2M2257.7 59.8v-6.2M2257.7 1088.3v6.2M2269.9 59.8v-6.2M2269.9 1088.3v6.2M2282.2 59.8v-6.2M2282.2 1088.3v6.2M2294.5 59.8v-6.2M2294.5 1088.3v6.2M2306.8 59.8v-6.2M2306.8 1088.3v6.2M2319.1 59.8v-6.2M2319.1 1088.3v6.2M2331.3 59.8v-6.2M2331.3 1088.3v6.2M2343.6 59.8v-6.2M2343.6 1088.3v6.2M2355.9 59.8v-6.2M2355.9 1088.3v6.2M1987.5 59.8h-6.2M2355.9 59.8h6.2M1987.5 76.9h-6.2M2355.9 76.9h6.2M1987.5 94.1h-6.2M2355.9 94.1h6.2M1987.5 111.2h-6.2M2355.9 111.2h6.2M1987.5 128.4h-6.2M2355.9 128.4h6.2M1987.5 145.5h-6.2M2355.9 145.5h6.2M1987.5 162.6h-6.2M2355.9 162.6h6.2M1987.5 179.8h-6.2M2355.9 179.8h6.2M1987.5 196.9h-6.2M2355.9 196.9h6.2M1987.5 214.1h-6.2M2355.9 214.1h6.2M1987.5 231.2h-6.2M2355.9 231.2h6.2M1987.5 248.4h-6.2M2355.9 248.4h6.2M1987.5 265.5h-6.2M2355.9 265.5h6.2M1987.5 282.6h-6.2M2355.9 282.6h6.2M1987.5 299.8h-6.2M2355.9 299.8h6.2M1987.5 316.9h-6.2M2355.9 316.9h6.2M1987.5 334.1h-6.2M2355.9 334.1h6.2M1987.5 351.2h-6.2M2355.9 351.2h6.2M1987.5 368.4h-6.2M2355.9 368.4h6.2M1987.5 385.5h-6.2M2355.9 385.5h6.2M1987.5 402.6h-6.2M2355.9 402.6h6.2M1987.5 419.8h-6.2M2355.9 419.8h6.2M1987.5 436.9h-6.2M2355.9 436.9h6.2M1987.5 454.1h-6.2M2355.9 454.1h6.2M1987.5 471.2h-6.2M2355.9 471.2h6.2M1987.5 488.3h-6.2M2355.9 488.3h6.2M1987.5 505.5h-6.2M2355.9 505.5h6.2M1987.5 522.6h-6.2M2355.9 522.6h6.2M1987.5 539.8h-6.2M2355.9 539.8h6.2M1987.5 556.9h-6.2M2355.9 556.9h6.2M1987.5 574h-6.2M2355.9 574h6.2M1987.5 591.2h-6.2M2355.9 591.2h6.2M1987.5 608.3h-6.2M2355.9 608.3h6.2M1987.5 625.5h-6.2M2355.9 625.5h6.2M1987.5 642.6h-6.2M2355.9 642.6h6.2M1987.5 659.8h-6.2M2355.9 659.8h6.2M1987.5 676.9h-6.2M2355.9 676.9h6.2M1987.5 694h-6.2M2355.9 694h6.2M1987.5 711.2h-6.2M2355.9 711.2h6.2M1987.5 728.3h-6.2M2355.9 728.3h6.2M1987.5 745.5h-6.2M2355.9 745.5h6.2M1987.5 762.6h-6.2M2355.9 762.6h6.2M1987.5 779.7h-6.2M2355.9 779.7h6.2M1987.5 796.9h-6.2M2355.9 796.9h6.2M1987.5 814h-6.2M2355.9 814h6.2M1987.5 831.2h-6.2M2355.9 831.2h6.2M1987.5 848.3h-6.2M2355.9 848.3h6.2M1987.5 865.5h-6.2M2355.9 865.5h6.2M1987.5 882.6h-6.2M2355.9 882.6h6.2M1987.5 899.7h-6.2M2355.9 899.7h6.2M1987.5 916.9h-6.2M2355.9 916.9h6.2M1987.5 934h-6.2M2355.9 934h6.2M1987.5 951.2h-6.2M2355.9 951.2h6.2M1987.5 968.3h-6.2M2355.9 968.3h6.2M1987.5 985.4h-6.2M2355.9 985.4h6.2M1987.5 1002.6h-6.2M2355.9 1002.6h6.2M1987.5 1019.7h-6.2M2355.9 1019.7h6.2M1987.5 1036.9h-6.2M2355.9 1036.9h6.2M1987.5 1054h-6.2M2355.9 1054h6.2M1987.5 1071.2h-6.2M2355.9 1071.2h6.2M1987.5 1088.3h-6.2M2355.9 1088.3h6.2" stroke="#5e5e5e" stroke-width="2" fill="none"/>
<path d="M1987.5 59.8v-11.3M1987.5 1088.3v11.3M2110.3 59.8v-11.3M2110.3 1088.3v11.3M2233.1 59.8v-11.3M2233.1 1088.3v11.3M2355.9 59.8v-11.3M2355.9 1088.3v11.3M1987.5 59.8h-11.7M2355.9 59.8h11.7M1987.5 231.2h-11.7M2355.9 231.2h11.7M1987.5 402.6h-11.7M2355.9 402.6h11.7M1987.5 574h-11.7M2355.9 574h11.7M1987.5 745.5h-11.7M2355.9 745.5h11.7M1987.5 916.9h-11.7M2355.9 916.9h11.7M1987.5 1088.3h-11.7M2355.9 1088.3h11.7" stroke="#5e5e5e" stroke-width="2.1" fill="none"/>
<rect x="1987.5" y="59.8" width="368.4" height="1028.5" fill="none" stroke="#5e5e5e" stroke-width="2.5"/>
<g fill="#000"><circle cx="2342.4" cy="59.8" r="5.3"/><circle cx="2342.7" cy="64.1" r="5.3"/><circle cx="2342.4" cy="68.4" r="5.3"/><circle cx="2340.4" cy="76.9" r="5.3"/><circle cx="2336.5" cy="85.5" r="5.3"/><circle cx="2330" cy="94.1" r="5.3"/><circle cx="2322.6" cy="102.7" r="5.3"/><circle cx="2314.7" cy="111.2" r="5.3"/><circle cx="2304.3" cy="119.8" r="5.3"/><circle cx="2293.2" cy="128.4" r="5.3"/><circle cx="2278.7" cy="136.9" r="5.3"/><circle cx="2263.2" cy="145.5" r="5.3"/><circle cx="2245.1" cy="154.1" r="5.3"/><circle cx="2230.5" cy="162.6" r="5.3"/><circle cx="2217" cy="171.2" r="5.3"/><circle cx="2204.5" cy="179.8" r="5.3"/><circle cx="2195.8" cy="188.4" r="5.3"/><circle cx="2188.3" cy="196.9" r="5.3"/><circle cx="2182" cy="205.5" r="5.3"/><circle cx="2176.8" cy="214.1" r="5.3"/><circle cx="2166.7" cy="231.2" r="5.3"/><circle cx="2158.9" cy="248.4" r="5.3"/><circle cx="2152.7" cy="265.5" r="5.3"/><circle cx="2147.5" cy="282.6" r="5.3"/><circle cx="2143.2" cy="299.8" r="5.3"/><circle cx="2139.3" cy="316.9" r="5.3"/><circle cx="2136.1" cy="334.1" r="5.3"/><circle cx="2133.5" cy="351.2" r="5.3"/><circle cx="2130.5" cy="368.4" r="5.3"/><circle cx="2128.6" cy="385.5" r="5.3"/><circle cx="2126.9" cy="402.6" r="5.3"/><circle cx="2125.3" cy="419.8" r="5.3"/><circle cx="2122.7" cy="436.9" r="5.3"/><circle cx="2120.8" cy="454.1" r="5.3"/><circle cx="2117.8" cy="488.3" r="5.3"/><circle cx="2113.6" cy="531.2" r="5.3"/><circle cx="2109" cy="574" r="5.3"/><circle cx="2104.8" cy="616.9" r="5.3"/><circle cx="2100.2" cy="659.8" r="5.3"/><circle cx="2096" cy="702.6" r="5.3"/><circle cx="2091.4" cy="745.5" r="5.3"/><circle cx="2087.8" cy="788.3" r="5.3"/><circle cx="2082.9" cy="831.2" r="5.3"/><circle cx="2079.4" cy="874" r="5.3"/><circle cx="2074.8" cy="916.9" r="5.3"/><circle cx="2071.5" cy="959.7" r="5.3"/><circle cx="2067.6" cy="1002.6" r="5.3"/><circle cx="2064.4" cy="1045.4" r="5.3"/></g>
<g fill="#d6000c"><circle cx="2327.9" cy="64.1" r="5.3"/><circle cx="2326.5" cy="68.4" r="5.3"/><circle cx="2323.5" cy="76.9" r="5.3"/><circle cx="2320.5" cy="85.5" r="5.3"/><circle cx="2317.5" cy="94.1" r="5.3"/><circle cx="2314" cy="102.7" r="5.3"/><circle cx="2310.3" cy="111.2" r="5.3"/><circle cx="2306.1" cy="119.8" r="5.3"/><circle cx="2301.6" cy="128.4" r="5.3"/><circle cx="2295.7" cy="136.9" r="5.3"/><circle cx="2289.4" cy="145.5" r="5.3"/><circle cx="2282.4" cy="154.1" r="5.3"/><circle cx="2275.9" cy="162.6" r="5.3"/><circle cx="2269" cy="171.2" r="5.3"/><circle cx="2262.8" cy="179.8" r="5.3"/><circle cx="2256.8" cy="188.4" r="5.3"/><circle cx="2251" cy="196.9" r="5.3"/><circle cx="2245.8" cy="205.5" r="5.3"/><circle cx="2241" cy="214.1" r="5.3"/><circle cx="2233" cy="231.2" r="5.3"/><circle cx="2226.3" cy="248.4" r="5.3"/><circle cx="2220.2" cy="265.5" r="5.3"/><circle cx="2214.9" cy="282.6" r="5.3"/><circle cx="2210.1" cy="299.8" r="5.3"/><circle cx="2205.8" cy="316.9" r="5.3"/><circle cx="2201.9" cy="334.1" r="5.3"/><circle cx="2198.6" cy="351.2" r="5.3"/><circle cx="2194.7" cy="368.4" r="5.3"/><circle cx="2191.5" cy="385.5" r="5.3"/><circle cx="2188.9" cy="402.6" r="5.3"/><circle cx="2185" cy="419.8" r="5.3"/><circle cx="2182.4" cy="436.9" r="5.3"/><circle cx="2180.1" cy="454.1" r="5.3"/><circle cx="2174.9" cy="488.3" r="5.3"/><circle cx="2168.3" cy="531.2" r="5.3"/><circle cx="2162.1" cy="574" r="5.3"/><circle cx="2156.6" cy="616.9" r="5.3"/><circle cx="2151.7" cy="659.8" r="5.3"/><circle cx="2147.2" cy="702.6" r="5.3"/><circle cx="2142.9" cy="745.5" r="5.3"/><circle cx="2138.7" cy="788.3" r="5.3"/><circle cx="2134.8" cy="831.2" r="5.3"/></g>
<g class="tk" text-anchor="end"><text x="1962.8" y="75.8">0</text><text x="1962.8" y="247.2">-200</text><text x="1962.8" y="418.6">-400</text><text x="1962.8" y="590">-600</text><text x="1962.8" y="761.5">-800</text><text x="1962.8" y="932.9">1000</text><text x="1962.8" y="1104.3">1200</text></g>
<g class="tk" text-anchor="middle"><text x="1987.5" y="1154.3">0</text><text x="2110.3" y="1154.3">10</text><text x="2233.1" y="1154.3">20</text><text x="2355.9" y="1154.3">30</text></g>
<text class="tt" x="2171" y="46.2">A4</text>
</g>
<g id="A5">
<path d="M320 1322.9V2351M443.5 1322.9V2351M196.5 1425.7H567M196.5 1528.5H567M196.5 1631.3H567M196.5 1734.1H567M196.5 1837H567M196.5 1939.8H567M196.5 2042.6H567M196.5 2145.4H567M196.5 2248.2H567" stroke="#e4e4e4" stroke-width="2" fill="none"/>
<path d="M196.5 1322.9v-6.2M196.5 2351v6.2M208.8 1322.9v-6.2M208.8 2351v6.2M221.2 1322.9v-6.2M221.2 2351v6.2M233.6 1322.9v-6.2M233.6 2351v6.2M245.9 1322.9v-6.2M245.9 2351v6.2M258.2 1322.9v-6.2M258.2 2351v6.2M270.6 1322.9v-6.2M270.6 2351v6.2M282.9 1322.9v-6.2M282.9 2351v6.2M295.3 1322.9v-6.2M295.3 2351v6.2M307.6 1322.9v-6.2M307.6 2351v6.2M320 1322.9v-6.2M320 2351v6.2M332.4 1322.9v-6.2M332.4 2351v6.2M344.7 1322.9v-6.2M344.7 2351v6.2M357 1322.9v-6.2M357 2351v6.2M369.4 1322.9v-6.2M369.4 2351v6.2M381.8 1322.9v-6.2M381.8 2351v6.2M394.1 1322.9v-6.2M394.1 2351v6.2M406.4 1322.9v-6.2M406.4 2351v6.2M418.8 1322.9v-6.2M418.8 2351v6.2M431.1 1322.9v-6.2M431.1 2351v6.2M443.5 1322.9v-6.2M443.5 2351v6.2M455.8 1322.9v-6.2M455.8 2351v6.2M468.2 1322.9v-6.2M468.2 2351v6.2M480.6 1322.9v-6.2M480.6 2351v6.2M492.9 1322.9v-6.2M492.9 2351v6.2M505.2 1322.9v-6.2M505.2 2351v6.2M517.6 1322.9v-6.2M517.6 2351v6.2M530 1322.9v-6.2M530 2351v6.2M542.3 1322.9v-6.2M542.3 2351v6.2M554.6 1322.9v-6.2M554.6 2351v6.2M567 1322.9v-6.2M567 2351v6.2M196.5 1322.9h-6.2M567 1322.9h6.2M196.5 1333.2h-6.2M567 1333.2h6.2M196.5 1343.5h-6.2M567 1343.5h6.2M196.5 1353.7h-6.2M567 1353.7h6.2M196.5 1364h-6.2M567 1364h6.2M196.5 1374.3h-6.2M567 1374.3h6.2M196.5 1384.6h-6.2M567 1384.6h6.2M196.5 1394.9h-6.2M567 1394.9h6.2M196.5 1405.1h-6.2M567 1405.1h6.2M196.5 1415.4h-6.2M567 1415.4h6.2M196.5 1425.7h-6.2M567 1425.7h6.2M196.5 1436h-6.2M567 1436h6.2M196.5 1446.3h-6.2M567 1446.3h6.2M196.5 1456.6h-6.2M567 1456.6h6.2M196.5 1466.8h-6.2M567 1466.8h6.2M196.5 1477.1h-6.2M567 1477.1h6.2M196.5 1487.4h-6.2M567 1487.4h6.2M196.5 1497.7h-6.2M567 1497.7h6.2M196.5 1508h-6.2M567 1508h6.2M196.5 1518.2h-6.2M567 1518.2h6.2M196.5 1528.5h-6.2M567 1528.5h6.2M196.5 1538.8h-6.2M567 1538.8h6.2M196.5 1549.1h-6.2M567 1549.1h6.2M196.5 1559.4h-6.2M567 1559.4h6.2M196.5 1569.6h-6.2M567 1569.6h6.2M196.5 1579.9h-6.2M567 1579.9h6.2M196.5 1590.2h-6.2M567 1590.2h6.2M196.5 1600.5h-6.2M567 1600.5h6.2M196.5 1610.8h-6.2M567 1610.8h6.2M196.5 1621h-6.2M567 1621h6.2M196.5 1631.3h-6.2M567 1631.3h6.2M196.5 1641.6h-6.2M567 1641.6h6.2M196.5 1651.9h-6.2M567 1651.9h6.2M196.5 1662.2h-6.2M567 1662.2h6.2M196.5 1672.5h-6.2M567 1672.5h6.2M196.5 1682.7h-6.2M567 1682.7h6.2M196.5 1693h-6.2M567 1693h6.2M196.5 1703.3h-6.2M567 1703.3h6.2M196.5 1713.6h-6.2M567 1713.6h6.2M196.5 1723.9h-6.2M567 1723.9h6.2M196.5 1734.1h-6.2M567 1734.1h6.2M196.5 1744.4h-6.2M567 1744.4h6.2M196.5 1754.7h-6.2M567 1754.7h6.2M196.5 1765h-6.2M567 1765h6.2M196.5 1775.3h-6.2M567 1775.3h6.2M196.5 1785.5h-6.2M567 1785.5h6.2M196.5 1795.8h-6.2M567 1795.8h6.2M196.5 1806.1h-6.2M567 1806.1h6.2M196.5 1816.4h-6.2M567 1816.4h6.2M196.5 1826.7h-6.2M567 1826.7h6.2M196.5 1837h-6.2M567 1837h6.2M196.5 1847.2h-6.2M567 1847.2h6.2M196.5 1857.5h-6.2M567 1857.5h6.2M196.5 1867.8h-6.2M567 1867.8h6.2M196.5 1878.1h-6.2M567 1878.1h6.2M196.5 1888.4h-6.2M567 1888.4h6.2M196.5 1898.6h-6.2M567 1898.6h6.2M196.5 1908.9h-6.2M567 1908.9h6.2M196.5 1919.2h-6.2M567 1919.2h6.2M196.5 1929.5h-6.2M567 1929.5h6.2M196.5 1939.8h-6.2M567 1939.8h6.2M196.5 1950h-6.2M567 1950h6.2M196.5 1960.3h-6.2M567 1960.3h6.2M196.5 1970.6h-6.2M567 1970.6h6.2M196.5 1980.9h-6.2M567 1980.9h6.2M196.5 1991.2h-6.2M567 1991.2h6.2M196.5 2001.4h-6.2M567 2001.4h6.2M196.5 2011.7h-6.2M567 2011.7h6.2M196.5 2022h-6.2M567 2022h6.2M196.5 2032.3h-6.2M567 2032.3h6.2M196.5 2042.6h-6.2M567 2042.6h6.2M196.5 2052.9h-6.2M567 2052.9h6.2M196.5 2063.1h-6.2M567 2063.1h6.2M196.5 2073.4h-6.2M567 2073.4h6.2M196.5 2083.7h-6.2M567 2083.7h6.2M196.5 2094h-6.2M567 2094h6.2M196.5 2104.3h-6.2M567 2104.3h6.2M196.5 2114.5h-6.2M567 2114.5h6.2M196.5 2124.8h-6.2M567 2124.8h6.2M196.5 2135.1h-6.2M567 2135.1h6.2M196.5 2145.4h-6.2M567 2145.4h6.2M196.5 2155.7h-6.2M567 2155.7h6.2M196.5 2165.9h-6.2M567 2165.9h6.2M196.5 2176.2h-6.2M567 2176.2h6.2M196.5 2186.5h-6.2M567 2186.5h6.2M196.5 2196.8h-6.2M567 2196.8h6.2M196.5 2207.1h-6.2M567 2207.1h6.2M196.5 2217.3h-6.2M567 2217.3h6.2M196.5 2227.6h-6.2M567 2227.6h6.2M196.5 2237.9h-6.2M567 2237.9h6.2M196.5 2248.2h-6.2M567 2248.2h6.2M196.5 2258.5h-6.2M567 2258.5h6.2M196.5 2268.8h-6.2M567 2268.8h6.2M196.5 2279h-6.2M567 2279h6.2M196.5 2289.3h-6.2M567 2289.3h6.2M196.5 2299.6h-6.2M567 2299.6h6.2M196.5 2309.9h-6.2M567 2309.9h6.2M196.5 2320.2h-6.2M567 2320.2h6.2M196.5 2330.4h-6.2M567 2330.4h6.2M196.5 2340.7h-6.2M567 2340.7h6.2M196.5 2351h-6.2M567 2351h6.2" stroke="#5e5e5e" stroke-width="2" fill="none"/>
<path d="M196.5 1322.9v-11.3M196.5 2351v11.3M320 1322.9v-11.3M320 2351v11.3M443.5 1322.9v-11.3M443.5 2351v11.3M567 1322.9v-11.3M567 2351v11.3M196.5 1322.9h-11.7M567 1322.9h11.7M196.5 1425.7h-11.7M567 1425.7h11.7M196.5 1528.5h-11.7M567 1528.5h11.7M196.5 1631.3h-11.7M567 1631.3h11.7M196.5 1734.1h-11.7M567 1734.1h11.7M196.5 1837h-11.7M567 1837h11.7M196.5 1939.8h-11.7M567 1939.8h11.7M196.5 2042.6h-11.7M567 2042.6h11.7M196.5 2145.4h-11.7M567 2145.4h11.7M196.5 2248.2h-11.7M567 2248.2h11.7M196.5 2351h-11.7M567 2351h11.7" stroke="#5e5e5e" stroke-width="2.1" fill="none"/>
<rect x="196.5" y="1322.9" width="370.5" height="1028.1" fill="none" stroke="#5e5e5e" stroke-width="2.5"/>
<g fill="#000"><circle cx="554.8" cy="1322.9" r="5.3"/><circle cx="555.1" cy="1325.5" r="5.3"/><circle cx="555.2" cy="1328" r="5.3"/><circle cx="554.8" cy="1333.2" r="5.3"/><circle cx="553.4" cy="1338.3" r="5.3"/><circle cx="551.1" cy="1343.5" r="5.3"/><circle cx="547.6" cy="1348.6" r="5.3"/><circle cx="542" cy="1353.7" r="5.3"/><circle cx="531.7" cy="1358.9" r="5.3"/><circle cx="517.1" cy="1364" r="5.3"/><circle cx="497.4" cy="1369.2" r="5.3"/><circle cx="476.2" cy="1374.3" r="5.3"/><circle cx="457.1" cy="1379.4" r="5.3"/><circle cx="438.8" cy="1384.6" r="5.3"/><circle cx="423.1" cy="1389.7" r="5.3"/><circle cx="410.8" cy="1394.9" r="5.3"/><circle cx="400.7" cy="1400" r="5.3"/><circle cx="392.4" cy="1405.1" r="5.3"/><circle cx="385.4" cy="1410.3" r="5.3"/><circle cx="379.5" cy="1415.4" r="5.3"/><circle cx="370.2" cy="1425.7" r="5.3"/><circle cx="362.6" cy="1436" r="5.3"/><circle cx="357" cy="1446.3" r="5.3"/><circle cx="352.9" cy="1456.6" r="5.3"/><circle cx="348.7" cy="1466.8" r="5.3"/><circle cx="345.5" cy="1477.1" r="5.3"/><circle cx="342.9" cy="1487.4" r="5.3"/><circle cx="339.9" cy="1497.7" r="5.3"/><circle cx="338" cy="1508" r="5.3"/><circle cx="335.7" cy="1518.2" r="5.3"/><circle cx="333.4" cy="1528.5" r="5.3"/><circle cx="331.8" cy="1538.8" r="5.3"/><circle cx="330.1" cy="1549.1" r="5.3"/><circle cx="328.5" cy="1559.4" r="5.3"/><circle cx="325.9" cy="1579.9" r="5.3"/><circle cx="322" cy="1605.6" r="5.3"/><circle cx="318.4" cy="1631.3" r="5.3"/><circle cx="314.5" cy="1657" r="5.3"/><circle cx="310.3" cy="1682.7" r="5.3"/><circle cx="305.4" cy="1708.4" r="5.3"/><circle cx="301.5" cy="1734.1" r="5.3"/><circle cx="296.6" cy="1759.8" r="5.3"/><circle cx="293.3" cy="1785.5" r="5.3"/><circle cx="289.1" cy="1811.2" r="5.3"/><circle cx="285.2" cy="1837" r="5.3"/><circle cx="281.3" cy="1862.7" r="5.3"/><circle cx="277.7" cy="1888.4" r="5.3"/><circle cx="275.4" cy="1914.1" r="5.3"/><circle cx="272.1" cy="1939.8" r="5.3"/><circle cx="268.5" cy="1965.5" r="5.3"/><circle cx="265.3" cy="1991.2" r="5.3"/><circle cx="259.8" cy="2042.6" r="5.3"/><circle cx="253.6" cy="2094" r="5.3"/><circle cx="248.3" cy="2145.4" r="5.3"/><circle cx="242.8" cy="2196.8" r="5.3"/><circle cx="238.2" cy="2248.2" r="5.3"/><circle cx="234.7" cy="2299.6" r="5.3"/><circle cx="232" cy="2338.1" r="5.3"/></g>
<g fill="#d6000c"><circle cx="542.5" cy="1325.5" r="5.3"/><circle cx="541.8" cy="1328" r="5.3"/><circle cx="540.7" cy="1333.2" r="5.3"/><circle cx="539.3" cy="1338.3" r="5.3"/><circle cx="537.6" cy="1343.5" r="5.3"/><circle cx="535.4" cy="1348.6" r="5.3"/><circle cx="532.6" cy="1353.7" r="5.3"/><circle cx="529.6" cy="1358.9" r="5.3"/><circle cx="525.8" cy="1364" r="5.3"/><circle cx="521.3" cy="1369.2" r="5.3"/><circle cx="515.7" cy="1374.3" r="5.3"/><circle cx="509.5" cy="1379.4" r="5.3"/><circle cx="501.9" cy="1384.6" r="5.3"/><circle cx="492.8" cy="1389.7" r="5.3"/><circle cx="484.5" cy="1394.9" r="5.3"/><circle cx="475.5" cy="1400" r="5.3"/><circle cx="465.8" cy="1405.1" r="5.3"/><circle cx="456.8" cy="1410.3" r="5.3"/><circle cx="447.8" cy="1415.4" r="5.3"/><circle cx="430.9" cy="1425.7" r="5.3"/><circle cx="415.9" cy="1436" r="5.3"/><circle cx="403.2" cy="1446.3" r="5.3"/><circle cx="393.1" cy="1456.6" r="5.3"/><circle cx="383.9" cy="1466.8" r="5.3"/><circle cx="376.4" cy="1477.1" r="5.3"/><circle cx="369.9" cy="1487.4" r="5.3"/><circle cx="365" cy="1497.7" r="5.3"/><circle cx="360.1" cy="1508" r="5.3"/><circle cx="355.9" cy="1518.2" r="5.3"/><circle cx="352.6" cy="1528.5" r="5.3"/><circle cx="349.4" cy="1538.8" r="5.3"/><circle cx="346.4" cy="1549.1" r="5.3"/><circle cx="343.8" cy="1559.4" r="5.3"/><circle cx="339.6" cy="1579.9" r="5.3"/><circle cx="334.1" cy="1605.6" r="5.3"/><circle cx="329.8" cy="1631.3" r="5.3"/><circle cx="325.3" cy="1657" r="5.3"/><circle cx="321" cy="1682.7" r="5.3"/><circle cx="316.8" cy="1708.4" r="5.3"/><circle cx="312.9" cy="1734.1" r="5.3"/><circle cx="309" cy="1759.8" r="5.3"/><circle cx="305.4" cy="1785.5" r="5.3"/><circle cx="301.5" cy="1811.2" r="5.3"/><circle cx="297.2" cy="1837" r="5.3"/><circle cx="293.3" cy="1862.7" r="5.3"/><circle cx="289.4" cy="1888.4" r="5.3"/><circle cx="285.8" cy="1914.1" r="5.3"/><circle cx="281.9" cy="1939.8" r="5.3"/><circle cx="278" cy="1965.5" r="5.3"/><circle cx="274.7" cy="1991.2" r="5.3"/><circle cx="267.6" cy="2042.6" r="5.3"/><circle cx="261.1" cy="2094" r="5.3"/><circle cx="256.2" cy="2145.4" r="5.3"/><circle cx="250.6" cy="2196.8" r="5.3"/><circle cx="246.1" cy="2248.2" r="5.3"/><circle cx="242.5" cy="2299.6" r="5.3"/><circle cx="239.5" cy="2338.1" r="5.3"/></g>
<g class="tk" text-anchor="end"><text x="171.8" y="1338.9">0</text><text x="171.8" y="1441.7">-200</text><text x="171.8" y="1544.5">-400</text><text x="171.8" y="1647.3">-600</text><text x="171.8" y="1750.1">-800</text><text x="171.8" y="1853">-1000</text><text x="171.8" y="1955.8">-1200</text><text x="171.8" y="2058.6">-1400</text><text x="171.8" y="2161.4">-1600</text><text x="171.8" y="2264.2">-1800</text><text x="171.8" y="2367">-2000</text></g>
<g class="tk" text-anchor="middle"><text x="196.5" y="2417">0</text><text x="320" y="2417">10</text><text x="443.5" y="2417">20</text><text x="567" y="2417">30</text></g>
<text class="tt" x="381.1" y="1309.3">A5</text>
<text class="lb" x="381.8" y="2471.5"><tspan class="th">θ</tspan> [°]</text>
<text class="lb" transform="translate(38 1837) rotate(-90)">DEPTH [m]</text>
</g>
<g id="A6">
<path d="M906.3 1327.8V2355.6M1029.4 1327.8V2355.6M783.2 1430.6H1152.5M783.2 1533.4H1152.5M783.2 1636.1H1152.5M783.2 1738.9H1152.5M783.2 1841.7H1152.5M783.2 1944.5H1152.5M783.2 2047.3H1152.5M783.2 2150H1152.5M783.2 2252.8H1152.5" stroke="#e4e4e4" stroke-width="2" fill="none"/>
<path d="M783.2 1327.8v-6.2M783.2 2355.6v6.2M795.5 1327.8v-6.2M795.5 2355.6v6.2M807.8 1327.8v-6.2M807.8 2355.6v6.2M820.1 1327.8v-6.2M820.1 2355.6v6.2M832.4 1327.8v-6.2M832.4 2355.6v6.2M844.8 1327.8v-6.2M844.8 2355.6v6.2M857.1 1327.8v-6.2M857.1 2355.6v6.2M869.4 1327.8v-6.2M869.4 2355.6v6.2M881.7 1327.8v-6.2M881.7 2355.6v6.2M894 1327.8v-6.2M894 2355.6v6.2M906.3 1327.8v-6.2M906.3 2355.6v6.2M918.6 1327.8v-6.2M918.6 2355.6v6.2M930.9 1327.8v-6.2M930.9 2355.6v6.2M943.2 1327.8v-6.2M943.2 2355.6v6.2M955.5 1327.8v-6.2M955.5 2355.6v6.2M967.9 1327.8v-6.2M967.9 2355.6v6.2M980.2 1327.8v-6.2M980.2 2355.6v6.2M992.5 1327.8v-6.2M992.5 2355.6v6.2M1004.8 1327.8v-6.2M1004.8 2355.6v6.2M1017.1 1327.8v-6.2M1017.1 2355.6v6.2M1029.4 1327.8v-6.2M1029.4 2355.6v6.2M1041.7 1327.8v-6.2M1041.7 2355.6v6.2M1054 1327.8v-6.2M1054 2355.6v6.2M1066.3 1327.8v-6.2M1066.3 2355.6v6.2M1078.6 1327.8v-6.2M1078.6 2355.6v6.2M1091 1327.8v-6.2M1091 2355.6v6.2M1103.3 1327.8v-6.2M1103.3 2355.6v6.2M1115.6 1327.8v-6.2M1115.6 2355.6v6.2M1127.9 1327.8v-6.2M1127.9 2355.6v6.2M1140.2 1327.8v-6.2M1140.2 2355.6v6.2M1152.5 1327.8v-6.2M1152.5 2355.6v6.2M783.2 1327.8h-6.2M1152.5 1327.8h6.2M783.2 1338.1h-6.2M1152.5 1338.1h6.2M783.2 1348.4h-6.2M1152.5 1348.4h6.2M783.2 1358.6h-6.2M1152.5 1358.6h6.2M783.2 1368.9h-6.2M1152.5 1368.9h6.2M783.2 1379.2h-6.2M1152.5 1379.2h6.2M783.2 1389.5h-6.2M1152.5 1389.5h6.2M783.2 1399.7h-6.2M1152.5 1399.7h6.2M783.2 1410h-6.2M1152.5 1410h6.2M783.2 1420.3h-6.2M1152.5 1420.3h6.2M783.2 1430.6h-6.2M1152.5 1430.6h6.2M783.2 1440.9h-6.2M1152.5 1440.9h6.2M783.2 1451.1h-6.2M1152.5 1451.1h6.2M783.2 1461.4h-6.2M1152.5 1461.4h6.2M783.2 1471.7h-6.2M1152.5 1471.7h6.2M783.2 1482h-6.2M1152.5 1482h6.2M783.2 1492.2h-6.2M1152.5 1492.2h6.2M783.2 1502.5h-6.2M1152.5 1502.5h6.2M783.2 1512.8h-6.2M1152.5 1512.8h6.2M783.2 1523.1h-6.2M1152.5 1523.1h6.2M783.2 1533.4h-6.2M1152.5 1533.4h6.2M783.2 1543.6h-6.2M1152.5 1543.6h6.2M783.2 1553.9h-6.2M1152.5 1553.9h6.2M783.2 1564.2h-6.2M1152.5 1564.2h6.2M783.2 1574.5h-6.2M1152.5 1574.5h6.2M783.2 1584.8h-6.2M1152.5 1584.8h6.2M783.2 1595h-6.2M1152.5 1595h6.2M783.2 1605.3h-6.2M1152.5 1605.3h6.2M783.2 1615.6h-6.2M1152.5 1615.6h6.2M783.2 1625.9h-6.2M1152.5 1625.9h6.2M783.2 1636.1h-6.2M1152.5 1636.1h6.2M783.2 1646.4h-6.2M1152.5 1646.4h6.2M783.2 1656.7h-6.2M1152.5 1656.7h6.2M783.2 1667h-6.2M1152.5 1667h6.2M783.2 1677.3h-6.2M1152.5 1677.3h6.2M783.2 1687.5h-6.2M1152.5 1687.5h6.2M783.2 1697.8h-6.2M1152.5 1697.8h6.2M783.2 1708.1h-6.2M1152.5 1708.1h6.2M783.2 1718.4h-6.2M1152.5 1718.4h6.2M783.2 1728.6h-6.2M1152.5 1728.6h6.2M783.2 1738.9h-6.2M1152.5 1738.9h6.2M783.2 1749.2h-6.2M1152.5 1749.2h6.2M783.2 1759.5h-6.2M1152.5 1759.5h6.2M783.2 1769.8h-6.2M1152.5 1769.8h6.2M783.2 1780h-6.2M1152.5 1780h6.2M783.2 1790.3h-6.2M1152.5 1790.3h6.2M783.2 1800.6h-6.2M1152.5 1800.6h6.2M783.2 1810.9h-6.2M1152.5 1810.9h6.2M783.2 1821.1h-6.2M1152.5 1821.1h6.2M783.2 1831.4h-6.2M1152.5 1831.4h6.2M783.2 1841.7h-6.2M1152.5 1841.7h6.2M783.2 1852h-6.2M1152.5 1852h6.2M783.2 1862.3h-6.2M1152.5 1862.3h6.2M783.2 1872.5h-6.2M1152.5 1872.5h6.2M783.2 1882.8h-6.2M1152.5 1882.8h6.2M783.2 1893.1h-6.2M1152.5 1893.1h6.2M783.2 1903.4h-6.2M1152.5 1903.4h6.2M783.2 1913.6h-6.2M1152.5 1913.6h6.2M783.2 1923.9h-6.2M1152.5 1923.9h6.2M783.2 1934.2h-6.2M1152.5 1934.2h6.2M783.2 1944.5h-6.2M1152.5 1944.5h6.2M783.2 1954.8h-6.2M1152.5 1954.8h6.2M783.2 1965h-6.2M1152.5 1965h6.2M783.2 1975.3h-6.2M1152.5 1975.3h6.2M783.2 1985.6h-6.2M1152.5 1985.6h6.2M783.2 1995.9h-6.2M1152.5 1995.9h6.2M783.2 2006.1h-6.2M1152.5 2006.1h6.2M783.2 2016.4h-6.2M1152.5 2016.4h6.2M783.2 2026.7h-6.2M1152.5 2026.7h6.2M783.2 2037h-6.2M1152.5 2037h6.2M783.2 2047.3h-6.2M1152.5 2047.3h6.2M783.2 2057.5h-6.2M1152.5 2057.5h6.2M783.2 2067.8h-6.2M1152.5 2067.8h6.2M783.2 2078.1h-6.2M1152.5 2078.1h6.2M783.2 2088.4h-6.2M1152.5 2088.4h6.2M783.2 2098.7h-6.2M1152.5 2098.7h6.2M783.2 2108.9h-6.2M1152.5 2108.9h6.2M783.2 2119.2h-6.2M1152.5 2119.2h6.2M783.2 2129.5h-6.2M1152.5 2129.5h6.2M783.2 2139.8h-6.2M1152.5 2139.8h6.2M783.2 2150h-6.2M1152.5 2150h6.2M783.2 2160.3h-6.2M1152.5 2160.3h6.2M783.2 2170.6h-6.2M1152.5 2170.6h6.2M783.2 2180.9h-6.2M1152.5 2180.9h6.2M783.2 2191.2h-6.2M1152.5 2191.2h6.2M783.2 2201.4h-6.2M1152.5 2201.4h6.2M783.2 2211.7h-6.2M1152.5 2211.7h6.2M783.2 2222h-6.2M1152.5 2222h6.2M783.2 2232.3h-6.2M1152.5 2232.3h6.2M783.2 2242.5h-6.2M1152.5 2242.5h6.2M783.2 2252.8h-6.2M1152.5 2252.8h6.2M783.2 2263.1h-6.2M1152.5 2263.1h6.2M783.2 2273.4h-6.2M1152.5 2273.4h6.2M783.2 2283.7h-6.2M1152.5 2283.7h6.2M783.2 2293.9h-6.2M1152.5 2293.9h6.2M783.2 2304.2h-6.2M1152.5 2304.2h6.2M783.2 2314.5h-6.2M1152.5 2314.5h6.2M783.2 2324.8h-6.2M1152.5 2324.8h6.2M783.2 2335h-6.2M1152.5 2335h6.2M783.2 2345.3h-6.2M1152.5 2345.3h6.2M783.2 2355.6h-6.2M1152.5 2355.6h6.2" stroke="#5e5e5e" stroke-width="2" fill="none"/>
<path d="M783.2 1327.8v-11.3M783.2 2355.6v11.3M906.3 1327.8v-11.3M906.3 2355.6v11.3M1029.4 1327.8v-11.3M1029.4 2355.6v11.3M1152.5 1327.8v-11.3M1152.5 2355.6v11.3M783.2 1327.8h-11.7M1152.5 1327.8h11.7M783.2 1430.6h-11.7M1152.5 1430.6h11.7M783.2 1533.4h-11.7M1152.5 1533.4h11.7M783.2 1636.1h-11.7M1152.5 1636.1h11.7M783.2 1738.9h-11.7M1152.5 1738.9h11.7M783.2 1841.7h-11.7M1152.5 1841.7h11.7M783.2 1944.5h-11.7M1152.5 1944.5h11.7M783.2 2047.3h-11.7M1152.5 2047.3h11.7M783.2 2150h-11.7M1152.5 2150h11.7M783.2 2252.8h-11.7M1152.5 2252.8h11.7M783.2 2355.6h-11.7M1152.5 2355.6h11.7" stroke="#5e5e5e" stroke-width="2.1" fill="none"/>
<rect x="783.2" y="1327.8" width="369.3" height="1027.8" fill="none" stroke="#5e5e5e" stroke-width="2.5"/>
<g fill="#000"><circle cx="1138.3" cy="1327.8" r="5.3"/><circle cx="1138.6" cy="1330.4" r="5.3"/><circle cx="1138.7" cy="1332.9" r="5.3"/><circle cx="1137.9" cy="1338.1" r="5.3"/><circle cx="1135.8" cy="1343.2" r="5.3"/><circle cx="1131.4" cy="1348.4" r="5.3"/><circle cx="1123" cy="1353.5" r="5.3"/><circle cx="1112" cy="1358.6" r="5.3"/><circle cx="1098.8" cy="1363.8" r="5.3"/><circle cx="1083.5" cy="1368.9" r="5.3"/><circle cx="1065.5" cy="1374.1" r="5.3"/><circle cx="1047.5" cy="1379.2" r="5.3"/><circle cx="1030.9" cy="1384.3" r="5.3"/><circle cx="1016" cy="1389.5" r="5.3"/><circle cx="1003.6" cy="1394.6" r="5.3"/><circle cx="992.5" cy="1399.7" r="5.3"/><circle cx="983.1" cy="1404.9" r="5.3"/><circle cx="975.4" cy="1410" r="5.3"/><circle cx="969.2" cy="1415.2" r="5.3"/><circle cx="964.1" cy="1420.3" r="5.3"/><circle cx="955.1" cy="1430.6" r="5.3"/><circle cx="948.4" cy="1440.9" r="5.3"/><circle cx="942.2" cy="1451.1" r="5.3"/><circle cx="937.3" cy="1461.4" r="5.3"/><circle cx="934.1" cy="1471.7" r="5.3"/><circle cx="930.8" cy="1482" r="5.3"/><circle cx="927.5" cy="1492.2" r="5.3"/><circle cx="924.9" cy="1502.5" r="5.3"/><circle cx="922.7" cy="1512.8" r="5.3"/><circle cx="921" cy="1523.1" r="5.3"/><circle cx="918.7" cy="1533.4" r="5.3"/><circle cx="916.8" cy="1543.6" r="5.3"/><circle cx="915.2" cy="1553.9" r="5.3"/><circle cx="913.2" cy="1564.2" r="5.3"/><circle cx="909.6" cy="1584.8" r="5.3"/><circle cx="905.4" cy="1610.4" r="5.3"/><circle cx="900.8" cy="1636.1" r="5.3"/><circle cx="895.9" cy="1661.8" r="5.3"/><circle cx="891.7" cy="1687.5" r="5.3"/><circle cx="887.1" cy="1713.2" r="5.3"/><circle cx="882.9" cy="1738.9" r="5.3"/><circle cx="878.7" cy="1764.6" r="5.3"/><circle cx="875.4" cy="1790.3" r="5.3"/><circle cx="871.2" cy="1816" r="5.3"/><circle cx="867.9" cy="1841.7" r="5.3"/><circle cx="864" cy="1867.4" r="5.3"/><circle cx="861.4" cy="1893.1" r="5.3"/><circle cx="858.4" cy="1918.8" r="5.3"/><circle cx="855.8" cy="1944.5" r="5.3"/><circle cx="853.2" cy="1970.2" r="5.3"/><circle cx="850.3" cy="1995.9" r="5.3"/><circle cx="845.1" cy="2047.3" r="5.3"/><circle cx="840.2" cy="2098.7" r="5.3"/><circle cx="834" cy="2150" r="5.3"/><circle cx="829.1" cy="2201.4" r="5.3"/><circle cx="824.2" cy="2252.8" r="5.3"/><circle cx="821" cy="2304.2" r="5.3"/><circle cx="818.7" cy="2342.8" r="5.3"/></g>
<g fill="#d6000c"><circle cx="1128.3" cy="1330.4" r="5.3"/><circle cx="1127.6" cy="1332.9" r="5.3"/><circle cx="1126.2" cy="1338.1" r="5.3"/><circle cx="1124.4" cy="1343.2" r="5.3"/><circle cx="1122.3" cy="1348.4" r="5.3"/><circle cx="1119.9" cy="1353.5" r="5.3"/><circle cx="1116.8" cy="1358.6" r="5.3"/><circle cx="1113.3" cy="1363.8" r="5.3"/><circle cx="1108.8" cy="1368.9" r="5.3"/><circle cx="1103.2" cy="1374.1" r="5.3"/><circle cx="1096.7" cy="1379.2" r="5.3"/><circle cx="1089.8" cy="1384.3" r="5.3"/><circle cx="1082.2" cy="1389.5" r="5.3"/><circle cx="1073.8" cy="1394.6" r="5.3"/><circle cx="1065.5" cy="1399.7" r="5.3"/><circle cx="1056.5" cy="1404.9" r="5.3"/><circle cx="1047.5" cy="1410" r="5.3"/><circle cx="1038.5" cy="1415.2" r="5.3"/><circle cx="1030.2" cy="1420.3" r="5.3"/><circle cx="1014.9" cy="1430.6" r="5.3"/><circle cx="1000.8" cy="1440.9" r="5.3"/><circle cx="989.3" cy="1451.1" r="5.3"/><circle cx="979.6" cy="1461.4" r="5.3"/><circle cx="971.5" cy="1471.7" r="5.3"/><circle cx="964" cy="1482" r="5.3"/><circle cx="957.5" cy="1492.2" r="5.3"/><circle cx="951.3" cy="1502.5" r="5.3"/><circle cx="947.1" cy="1512.8" r="5.3"/><circle cx="942.2" cy="1523.1" r="5.3"/><circle cx="938.9" cy="1533.4" r="5.3"/><circle cx="935" cy="1543.6" r="5.3"/><circle cx="931.8" cy="1553.9" r="5.3"/><circle cx="929.2" cy="1564.2" r="5.3"/><circle cx="924.9" cy="1584.8" r="5.3"/><circle cx="918.4" cy="1610.4" r="5.3"/><circle cx="913.5" cy="1636.1" r="5.3"/><circle cx="908.6" cy="1661.8" r="5.3"/><circle cx="904.7" cy="1687.5" r="5.3"/><circle cx="900.2" cy="1713.2" r="5.3"/><circle cx="895.9" cy="1738.9" r="5.3"/><circle cx="891.7" cy="1764.6" r="5.3"/><circle cx="887.5" cy="1790.3" r="5.3"/><circle cx="883.5" cy="1816" r="5.3"/><circle cx="879.6" cy="1841.7" r="5.3"/><circle cx="875.4" cy="1867.4" r="5.3"/><circle cx="871.2" cy="1893.1" r="5.3"/><circle cx="867.9" cy="1918.8" r="5.3"/><circle cx="864.3" cy="1944.5" r="5.3"/><circle cx="861.1" cy="1970.2" r="5.3"/><circle cx="857.5" cy="1995.9" r="5.3"/><circle cx="851.9" cy="2047.3" r="5.3"/><circle cx="846.1" cy="2098.7" r="5.3"/><circle cx="841.5" cy="2150" r="5.3"/><circle cx="837.9" cy="2201.4" r="5.3"/><circle cx="834" cy="2252.8" r="5.3"/><circle cx="831.7" cy="2304.2" r="5.3"/><circle cx="829.4" cy="2342.8" r="5.3"/></g>
<g class="tk" text-anchor="end"><text x="758.5" y="1343.8">0</text><text x="758.5" y="1446.6">-200</text><text x="758.5" y="1549.4">-400</text><text x="758.5" y="1652.1">-600</text><text x="758.5" y="1754.9">-800</text><text x="758.5" y="1857.7">-1000</text><text x="758.5" y="1960.5">-1200</text><text x="758.5" y="2063.3">-1400</text><text x="758.5" y="2166">-1600</text><text x="758.5" y="2268.8">-1800</text><text x="758.5" y="2371.6">-2000</text></g>
<g class="tk" text-anchor="middle"><text x="783.2" y="2421.6">0</text><text x="906.3" y="2421.6">10</text><text x="1029.4" y="2421.6">20</text><text x="1152.5" y="2421.6">30</text></g>
<text class="tt" x="967.1" y="1314.2">A6</text>
<text class="lb" x="967.9" y="2476.1"><tspan class="th">θ</tspan> [°]</text>
</g>
<g id="A7">
<path d="M1510.5 1335.6V2363.3M1633.5 1335.6V2363.3M1387.4 1438.4H1756.6M1387.4 1541.1H1756.6M1387.4 1643.9H1756.6M1387.4 1746.7H1756.6M1387.4 1849.5H1756.6M1387.4 1952.2H1756.6M1387.4 2055H1756.6M1387.4 2157.8H1756.6M1387.4 2260.5H1756.6" stroke="#e4e4e4" stroke-width="2" fill="none"/>
<path d="M1387.4 1335.6v-6.2M1387.4 2363.3v6.2M1399.7 1335.6v-6.2M1399.7 2363.3v6.2M1412 1335.6v-6.2M1412 2363.3v6.2M1424.3 1335.6v-6.2M1424.3 2363.3v6.2M1436.6 1335.6v-6.2M1436.6 2363.3v6.2M1448.9 1335.6v-6.2M1448.9 2363.3v6.2M1461.2 1335.6v-6.2M1461.2 2363.3v6.2M1473.5 1335.6v-6.2M1473.5 2363.3v6.2M1485.9 1335.6v-6.2M1485.9 2363.3v6.2M1498.2 1335.6v-6.2M1498.2 2363.3v6.2M1510.5 1335.6v-6.2M1510.5 2363.3v6.2M1522.8 1335.6v-6.2M1522.8 2363.3v6.2M1535.1 1335.6v-6.2M1535.1 2363.3v6.2M1547.4 1335.6v-6.2M1547.4 2363.3v6.2M1559.7 1335.6v-6.2M1559.7 2363.3v6.2M1572 1335.6v-6.2M1572 2363.3v6.2M1584.3 1335.6v-6.2M1584.3 2363.3v6.2M1596.6 1335.6v-6.2M1596.6 2363.3v6.2M1608.9 1335.6v-6.2M1608.9 2363.3v6.2M1621.2 1335.6v-6.2M1621.2 2363.3v6.2M1633.5 1335.6v-6.2M1633.5 2363.3v6.2M1645.8 1335.6v-6.2M1645.8 2363.3v6.2M1658.1 1335.6v-6.2M1658.1 2363.3v6.2M1670.5 1335.6v-6.2M1670.5 2363.3v6.2M1682.8 1335.6v-6.2M1682.8 2363.3v6.2M1695.1 1335.6v-6.2M1695.1 2363.3v6.2M1707.4 1335.6v-6.2M1707.4 2363.3v6.2M1719.7 1335.6v-6.2M1719.7 2363.3v6.2M1732 1335.6v-6.2M1732 2363.3v6.2M1744.3 1335.6v-6.2M1744.3 2363.3v6.2M1756.6 1335.6v-6.2M1756.6 2363.3v6.2M1387.4 1335.6h-6.2M1756.6 1335.6h6.2M1387.4 1345.9h-6.2M1756.6 1345.9h6.2M1387.4 1356.2h-6.2M1756.6 1356.2h6.2M1387.4 1366.4h-6.2M1756.6 1366.4h6.2M1387.4 1376.7h-6.2M1756.6 1376.7h6.2M1387.4 1387h-6.2M1756.6 1387h6.2M1387.4 1397.3h-6.2M1756.6 1397.3h6.2M1387.4 1407.5h-6.2M1756.6 1407.5h6.2M1387.4 1417.8h-6.2M1756.6 1417.8h6.2M1387.4 1428.1h-6.2M1756.6 1428.1h6.2M1387.4 1438.4h-6.2M1756.6 1438.4h6.2M1387.4 1448.6h-6.2M1756.6 1448.6h6.2M1387.4 1458.9h-6.2M1756.6 1458.9h6.2M1387.4 1469.2h-6.2M1756.6 1469.2h6.2M1387.4 1479.5h-6.2M1756.6 1479.5h6.2M1387.4 1489.8h-6.2M1756.6 1489.8h6.2M1387.4 1500h-6.2M1756.6 1500h6.2M1387.4 1510.3h-6.2M1756.6 1510.3h6.2M1387.4 1520.6h-6.2M1756.6 1520.6h6.2M1387.4 1530.9h-6.2M1756.6 1530.9h6.2M1387.4 1541.1h-6.2M1756.6 1541.1h6.2M1387.4 1551.4h-6.2M1756.6 1551.4h6.2M1387.4 1561.7h-6.2M1756.6 1561.7h6.2M1387.4 1572h-6.2M1756.6 1572h6.2M1387.4 1582.2h-6.2M1756.6 1582.2h6.2M1387.4 1592.5h-6.2M1756.6 1592.5h6.2M1387.4 1602.8h-6.2M1756.6 1602.8h6.2M1387.4 1613.1h-6.2M1756.6 1613.1h6.2M1387.4 1623.4h-6.2M1756.6 1623.4h6.2M1387.4 1633.6h-6.2M1756.6 1633.6h6.2M1387.4 1643.9h-6.2M1756.6 1643.9h6.2M1387.4 1654.2h-6.2M1756.6 1654.2h6.2M1387.4 1664.5h-6.2M1756.6 1664.5h6.2M1387.4 1674.7h-6.2M1756.6 1674.7h6.2M1387.4 1685h-6.2M1756.6 1685h6.2M1387.4 1695.3h-6.2M1756.6 1695.3h6.2M1387.4 1705.6h-6.2M1756.6 1705.6h6.2M1387.4 1715.8h-6.2M1756.6 1715.8h6.2M1387.4 1726.1h-6.2M1756.6 1726.1h6.2M1387.4 1736.4h-6.2M1756.6 1736.4h6.2M1387.4 1746.7h-6.2M1756.6 1746.7h6.2M1387.4 1757h-6.2M1756.6 1757h6.2M1387.4 1767.2h-6.2M1756.6 1767.2h6.2M1387.4 1777.5h-6.2M1756.6 1777.5h6.2M1387.4 1787.8h-6.2M1756.6 1787.8h6.2M1387.4 1798.1h-6.2M1756.6 1798.1h6.2M1387.4 1808.3h-6.2M1756.6 1808.3h6.2M1387.4 1818.6h-6.2M1756.6 1818.6h6.2M1387.4 1828.9h-6.2M1756.6 1828.9h6.2M1387.4 1839.2h-6.2M1756.6 1839.2h6.2M1387.4 1849.5h-6.2M1756.6 1849.5h6.2M1387.4 1859.7h-6.2M1756.6 1859.7h6.2M1387.4 1870h-6.2M1756.6 1870h6.2M1387.4 1880.3h-6.2M1756.6 1880.3h6.2M1387.4 1890.6h-6.2M1756.6 1890.6h6.2M1387.4 1900.8h-6.2M1756.6 1900.8h6.2M1387.4 1911.1h-6.2M1756.6 1911.1h6.2M1387.4 1921.4h-6.2M1756.6 1921.4h6.2M1387.4 1931.7h-6.2M1756.6 1931.7h6.2M1387.4 1941.9h-6.2M1756.6 1941.9h6.2M1387.4 1952.2h-6.2M1756.6 1952.2h6.2M1387.4 1962.5h-6.2M1756.6 1962.5h6.2M1387.4 1972.8h-6.2M1756.6 1972.8h6.2M1387.4 1983.1h-6.2M1756.6 1983.1h6.2M1387.4 1993.3h-6.2M1756.6 1993.3h6.2M1387.4 2003.6h-6.2M1756.6 2003.6h6.2M1387.4 2013.9h-6.2M1756.6 2013.9h6.2M1387.4 2024.2h-6.2M1756.6 2024.2h6.2M1387.4 2034.4h-6.2M1756.6 2034.4h6.2M1387.4 2044.7h-6.2M1756.6 2044.7h6.2M1387.4 2055h-6.2M1756.6 2055h6.2M1387.4 2065.3h-6.2M1756.6 2065.3h6.2M1387.4 2075.5h-6.2M1756.6 2075.5h6.2M1387.4 2085.8h-6.2M1756.6 2085.8h6.2M1387.4 2096.1h-6.2M1756.6 2096.1h6.2M1387.4 2106.4h-6.2M1756.6 2106.4h6.2M1387.4 2116.7h-6.2M1756.6 2116.7h6.2M1387.4 2126.9h-6.2M1756.6 2126.9h6.2M1387.4 2137.2h-6.2M1756.6 2137.2h6.2M1387.4 2147.5h-6.2M1756.6 2147.5h6.2M1387.4 2157.8h-6.2M1756.6 2157.8h6.2M1387.4 2168h-6.2M1756.6 2168h6.2M1387.4 2178.3h-6.2M1756.6 2178.3h6.2M1387.4 2188.6h-6.2M1756.6 2188.6h6.2M1387.4 2198.9h-6.2M1756.6 2198.9h6.2M1387.4 2209.1h-6.2M1756.6 2209.1h6.2M1387.4 2219.4h-6.2M1756.6 2219.4h6.2M1387.4 2229.7h-6.2M1756.6 2229.7h6.2M1387.4 2240h-6.2M1756.6 2240h6.2M1387.4 2250.3h-6.2M1756.6 2250.3h6.2M1387.4 2260.5h-6.2M1756.6 2260.5h6.2M1387.4 2270.8h-6.2M1756.6 2270.8h6.2M1387.4 2281.1h-6.2M1756.6 2281.1h6.2M1387.4 2291.4h-6.2M1756.6 2291.4h6.2M1387.4 2301.6h-6.2M1756.6 2301.6h6.2M1387.4 2311.9h-6.2M1756.6 2311.9h6.2M1387.4 2322.2h-6.2M1756.6 2322.2h6.2M1387.4 2332.5h-6.2M1756.6 2332.5h6.2M1387.4 2342.7h-6.2M1756.6 2342.7h6.2M1387.4 2353h-6.2M1756.6 2353h6.2M1387.4 2363.3h-6.2M1756.6 2363.3h6.2" stroke="#5e5e5e" stroke-width="2" fill="none"/>
<path d="M1387.4 1335.6v-11.3M1387.4 2363.3v11.3M1510.5 1335.6v-11.3M1510.5 2363.3v11.3M1633.5 1335.6v-11.3M1633.5 2363.3v11.3M1756.6 1335.6v-11.3M1756.6 2363.3v11.3M1387.4 1335.6h-11.7M1756.6 1335.6h11.7M1387.4 1438.4h-11.7M1756.6 1438.4h11.7M1387.4 1541.1h-11.7M1756.6 1541.1h11.7M1387.4 1643.9h-11.7M1756.6 1643.9h11.7M1387.4 1746.7h-11.7M1756.6 1746.7h11.7M1387.4 1849.5h-11.7M1756.6 1849.5h11.7M1387.4 1952.2h-11.7M1756.6 1952.2h11.7M1387.4 2055h-11.7M1756.6 2055h11.7M1387.4 2157.8h-11.7M1756.6 2157.8h11.7M1387.4 2260.5h-11.7M1756.6 2260.5h11.7M1387.4 2363.3h-11.7M1756.6 2363.3h11.7" stroke="#5e5e5e" stroke-width="2.1" fill="none"/>
<rect x="1387.4" y="1335.6" width="369.2" height="1027.7" fill="none" stroke="#5e5e5e" stroke-width="2.5"/>
<g fill="#000"><circle cx="1745.2" cy="1335.6" r="5.3"/><circle cx="1745.6" cy="1338.2" r="5.3"/><circle cx="1745.9" cy="1340.7" r="5.3"/><circle cx="1745.2" cy="1345.9" r="5.3"/><circle cx="1743.4" cy="1351" r="5.3"/><circle cx="1740.6" cy="1356.2" r="5.3"/><circle cx="1735.5" cy="1361.3" r="5.3"/><circle cx="1727.2" cy="1366.4" r="5.3"/><circle cx="1714" cy="1371.6" r="5.3"/><circle cx="1698.1" cy="1376.7" r="5.3"/><circle cx="1679.4" cy="1381.8" r="5.3"/><circle cx="1660.7" cy="1387" r="5.3"/><circle cx="1641.7" cy="1392.1" r="5.3"/><circle cx="1623.9" cy="1397.3" r="5.3"/><circle cx="1611.5" cy="1402.4" r="5.3"/><circle cx="1600.1" cy="1407.5" r="5.3"/><circle cx="1589.6" cy="1412.7" r="5.3"/><circle cx="1579.6" cy="1417.8" r="5.3"/><circle cx="1572.4" cy="1423" r="5.3"/><circle cx="1565.7" cy="1428.1" r="5.3"/><circle cx="1556.7" cy="1438.4" r="5.3"/><circle cx="1549.4" cy="1448.6" r="5.3"/><circle cx="1543.8" cy="1458.9" r="5.3"/><circle cx="1538.7" cy="1469.2" r="5.3"/><circle cx="1534.7" cy="1479.5" r="5.3"/><circle cx="1530.8" cy="1489.8" r="5.3"/><circle cx="1528.2" cy="1500" r="5.3"/><circle cx="1525.3" cy="1510.3" r="5.3"/><circle cx="1522.7" cy="1520.6" r="5.3"/><circle cx="1521" cy="1530.9" r="5.3"/><circle cx="1518.7" cy="1541.1" r="5.3"/><circle cx="1516.8" cy="1551.4" r="5.3"/><circle cx="1515.5" cy="1561.7" r="5.3"/><circle cx="1513.9" cy="1572" r="5.3"/><circle cx="1511.2" cy="1592.5" r="5.3"/><circle cx="1507.3" cy="1618.2" r="5.3"/><circle cx="1503.7" cy="1643.9" r="5.3"/><circle cx="1499.8" cy="1669.6" r="5.3"/><circle cx="1495.6" cy="1695.3" r="5.3"/><circle cx="1491.7" cy="1721" r="5.3"/><circle cx="1487.8" cy="1746.7" r="5.3"/><circle cx="1484.2" cy="1772.4" r="5.3"/><circle cx="1479.3" cy="1798.1" r="5.3"/><circle cx="1476" cy="1823.8" r="5.3"/><circle cx="1472.5" cy="1849.5" r="5.3"/><circle cx="1468.9" cy="1875.1" r="5.3"/><circle cx="1465.6" cy="1900.8" r="5.3"/><circle cx="1462.4" cy="1926.5" r="5.3"/><circle cx="1459.1" cy="1952.2" r="5.3"/><circle cx="1455.8" cy="1977.9" r="5.3"/><circle cx="1453.2" cy="2003.6" r="5.3"/><circle cx="1447.7" cy="2055" r="5.3"/><circle cx="1441.8" cy="2106.4" r="5.3"/><circle cx="1436.9" cy="2157.8" r="5.3"/><circle cx="1432" cy="2209.1" r="5.3"/><circle cx="1428.5" cy="2260.5" r="5.3"/><circle cx="1424.6" cy="2311.9" r="5.3"/><circle cx="1422.3" cy="2350.5" r="5.3"/></g>
<g fill="#d6000c"><circle cx="1736.2" cy="1338.2" r="5.3"/><circle cx="1735.9" cy="1340.7" r="5.3"/><circle cx="1735.2" cy="1345.9" r="5.3"/><circle cx="1734.1" cy="1351" r="5.3"/><circle cx="1732" cy="1356.2" r="5.3"/><circle cx="1728.6" cy="1361.3" r="5.3"/><circle cx="1723" cy="1366.4" r="5.3"/><circle cx="1715.4" cy="1371.6" r="5.3"/><circle cx="1705" cy="1376.7" r="5.3"/><circle cx="1694.3" cy="1381.8" r="5.3"/><circle cx="1681.5" cy="1387" r="5.3"/><circle cx="1668" cy="1392.1" r="5.3"/><circle cx="1654.2" cy="1397.3" r="5.3"/><circle cx="1641.3" cy="1402.4" r="5.3"/><circle cx="1628.8" cy="1407.5" r="5.3"/><circle cx="1617.7" cy="1412.7" r="5.3"/><circle cx="1607.3" cy="1417.8" r="5.3"/><circle cx="1598.7" cy="1423" r="5.3"/><circle cx="1590.7" cy="1428.1" r="5.3"/><circle cx="1577.5" cy="1438.4" r="5.3"/><circle cx="1566.2" cy="1448.6" r="5.3"/><circle cx="1557.1" cy="1458.9" r="5.3"/><circle cx="1549.1" cy="1469.2" r="5.3"/><circle cx="1543.2" cy="1479.5" r="5.3"/><circle cx="1538" cy="1489.8" r="5.3"/><circle cx="1533.4" cy="1500" r="5.3"/><circle cx="1529.2" cy="1510.3" r="5.3"/><circle cx="1525.9" cy="1520.6" r="5.3"/><circle cx="1522.7" cy="1530.9" r="5.3"/><circle cx="1520" cy="1541.1" r="5.3"/><circle cx="1517.8" cy="1551.4" r="5.3"/><circle cx="1515.2" cy="1561.7" r="5.3"/><circle cx="1512.2" cy="1572" r="5.3"/><circle cx="1506.4" cy="1592.5" r="5.3"/><circle cx="1499.8" cy="1618.2" r="5.3"/><circle cx="1493.3" cy="1643.9" r="5.3"/><circle cx="1487.5" cy="1669.6" r="5.3"/><circle cx="1481.9" cy="1695.3" r="5.3"/><circle cx="1476" cy="1721" r="5.3"/><circle cx="1470.5" cy="1746.7" r="5.3"/><circle cx="1465" cy="1772.4" r="5.3"/><circle cx="1459.8" cy="1798.1" r="5.3"/><circle cx="1455.8" cy="1823.8" r="5.3"/><circle cx="1451" cy="1849.5" r="5.3"/><circle cx="1446.1" cy="1875.1" r="5.3"/><circle cx="1441.8" cy="1900.8" r="5.3"/><circle cx="1438.2" cy="1926.5" r="5.3"/><circle cx="1434.7" cy="1952.2" r="5.3"/><circle cx="1431.1" cy="1977.9" r="5.3"/><circle cx="1428.8" cy="2003.6" r="5.3"/><circle cx="1424.2" cy="2055" r="5.3"/><circle cx="1420.6" cy="2106.4" r="5.3"/><circle cx="1418.4" cy="2157.8" r="5.3"/><circle cx="1416.1" cy="2209.1" r="5.3"/><circle cx="1414.4" cy="2260.5" r="5.3"/><circle cx="1413.1" cy="2311.9" r="5.3"/><circle cx="1411.8" cy="2350.5" r="5.3"/></g>
<g class="tk" text-anchor="end"><text x="1362.7" y="1351.6">0</text><text x="1362.7" y="1454.4">-200</text><text x="1362.7" y="1557.1">-400</text><text x="1362.7" y="1659.9">-600</text><text x="1362.7" y="1762.7">-800</text><text x="1362.7" y="1865.5">-1000</text><text x="1362.7" y="1968.2">-1200</text><text x="1362.7" y="2071">-1400</text><text x="1362.7" y="2173.8">-1600</text><text x="1362.7" y="2276.5">-1800</text><text x="1362.7" y="2379.3">-2000</text></g>
<g class="tk" text-anchor="middle"><text x="1387.4" y="2429.3">0</text><text x="1510.5" y="2429.3">10</text><text x="1633.5" y="2429.3">20</text><text x="1756.6" y="2429.3">30</text></g>
<text class="tt" x="1571.3" y="1322">A7</text>
<text class="lb" x="1572" y="2483.8"><tspan class="th">θ</tspan> [°]</text>
</g>
<g id="A8">
<path d="M2110.5 1335.6V2363.3M2233.6 1335.6V2363.3M1987.5 1438.4H2356.6M1987.5 1541.1H2356.6M1987.5 1643.9H2356.6M1987.5 1746.7H2356.6M1987.5 1849.5H2356.6M1987.5 1952.2H2356.6M1987.5 2055H2356.6M1987.5 2157.8H2356.6M1987.5 2260.5H2356.6" stroke="#e4e4e4" stroke-width="2" fill="none"/>
<path d="M1987.5 1335.6v-6.2M1987.5 2363.3v6.2M1999.8 1335.6v-6.2M1999.8 2363.3v6.2M2012.1 1335.6v-6.2M2012.1 2363.3v6.2M2024.4 1335.6v-6.2M2024.4 2363.3v6.2M2036.7 1335.6v-6.2M2036.7 2363.3v6.2M2049 1335.6v-6.2M2049 2363.3v6.2M2061.3 1335.6v-6.2M2061.3 2363.3v6.2M2073.6 1335.6v-6.2M2073.6 2363.3v6.2M2085.9 1335.6v-6.2M2085.9 2363.3v6.2M2098.2 1335.6v-6.2M2098.2 2363.3v6.2M2110.5 1335.6v-6.2M2110.5 2363.3v6.2M2122.8 1335.6v-6.2M2122.8 2363.3v6.2M2135.1 1335.6v-6.2M2135.1 2363.3v6.2M2147.4 1335.6v-6.2M2147.4 2363.3v6.2M2159.7 1335.6v-6.2M2159.7 2363.3v6.2M2172.1 1335.6v-6.2M2172.1 2363.3v6.2M2184.4 1335.6v-6.2M2184.4 2363.3v6.2M2196.7 1335.6v-6.2M2196.7 2363.3v6.2M2209 1335.6v-6.2M2209 2363.3v6.2M2221.3 1335.6v-6.2M2221.3 2363.3v6.2M2233.6 1335.6v-6.2M2233.6 2363.3v6.2M2245.9 1335.6v-6.2M2245.9 2363.3v6.2M2258.2 1335.6v-6.2M2258.2 2363.3v6.2M2270.5 1335.6v-6.2M2270.5 2363.3v6.2M2282.8 1335.6v-6.2M2282.8 2363.3v6.2M2295.1 1335.6v-6.2M2295.1 2363.3v6.2M2307.4 1335.6v-6.2M2307.4 2363.3v6.2M2319.7 1335.6v-6.2M2319.7 2363.3v6.2M2332 1335.6v-6.2M2332 2363.3v6.2M2344.3 1335.6v-6.2M2344.3 2363.3v6.2M2356.6 1335.6v-6.2M2356.6 2363.3v6.2M1987.5 1335.6h-6.2M2356.6 1335.6h6.2M1987.5 1345.9h-6.2M2356.6 1345.9h6.2M1987.5 1356.2h-6.2M2356.6 1356.2h6.2M1987.5 1366.4h-6.2M2356.6 1366.4h6.2M1987.5 1376.7h-6.2M2356.6 1376.7h6.2M1987.5 1387h-6.2M2356.6 1387h6.2M1987.5 1397.3h-6.2M2356.6 1397.3h6.2M1987.5 1407.5h-6.2M2356.6 1407.5h6.2M1987.5 1417.8h-6.2M2356.6 1417.8h6.2M1987.5 1428.1h-6.2M2356.6 1428.1h6.2M1987.5 1438.4h-6.2M2356.6 1438.4h6.2M1987.5 1448.6h-6.2M2356.6 1448.6h6.2M1987.5 1458.9h-6.2M2356.6 1458.9h6.2M1987.5 1469.2h-6.2M2356.6 1469.2h6.2M1987.5 1479.5h-6.2M2356.6 1479.5h6.2M1987.5 1489.8h-6.2M2356.6 1489.8h6.2M1987.5 1500h-6.2M2356.6 1500h6.2M1987.5 1510.3h-6.2M2356.6 1510.3h6.2M1987.5 1520.6h-6.2M2356.6 1520.6h6.2M1987.5 1530.9h-6.2M2356.6 1530.9h6.2M1987.5 1541.1h-6.2M2356.6 1541.1h6.2M1987.5 1551.4h-6.2M2356.6 1551.4h6.2M1987.5 1561.7h-6.2M2356.6 1561.7h6.2M1987.5 1572h-6.2M2356.6 1572h6.2M1987.5 1582.2h-6.2M2356.6 1582.2h6.2M1987.5 1592.5h-6.2M2356.6 1592.5h6.2M1987.5 1602.8h-6.2M2356.6 1602.8h6.2M1987.5 1613.1h-6.2M2356.6 1613.1h6.2M1987.5 1623.4h-6.2M2356.6 1623.4h6.2M1987.5 1633.6h-6.2M2356.6 1633.6h6.2M1987.5 1643.9h-6.2M2356.6 1643.9h6.2M1987.5 1654.2h-6.2M2356.6 1654.2h6.2M1987.5 1664.5h-6.2M2356.6 1664.5h6.2M1987.5 1674.7h-6.2M2356.6 1674.7h6.2M1987.5 1685h-6.2M2356.6 1685h6.2M1987.5 1695.3h-6.2M2356.6 1695.3h6.2M1987.5 1705.6h-6.2M2356.6 1705.6h6.2M1987.5 1715.8h-6.2M2356.6 1715.8h6.2M1987.5 1726.1h-6.2M2356.6 1726.1h6.2M1987.5 1736.4h-6.2M2356.6 1736.4h6.2M1987.5 1746.7h-6.2M2356.6 1746.7h6.2M1987.5 1757h-6.2M2356.6 1757h6.2M1987.5 1767.2h-6.2M2356.6 1767.2h6.2M1987.5 1777.5h-6.2M2356.6 1777.5h6.2M1987.5 1787.8h-6.2M2356.6 1787.8h6.2M1987.5 1798.1h-6.2M2356.6 1798.1h6.2M1987.5 1808.3h-6.2M2356.6 1808.3h6.2M1987.5 1818.6h-6.2M2356.6 1818.6h6.2M1987.5 1828.9h-6.2M2356.6 1828.9h6.2M1987.5 1839.2h-6.2M2356.6 1839.2h6.2M1987.5 1849.5h-6.2M2356.6 1849.5h6.2M1987.5 1859.7h-6.2M2356.6 1859.7h6.2M1987.5 1870h-6.2M2356.6 1870h6.2M1987.5 1880.3h-6.2M2356.6 1880.3h6.2M1987.5 1890.6h-6.2M2356.6 1890.6h6.2M1987.5 1900.8h-6.2M2356.6 1900.8h6.2M1987.5 1911.1h-6.2M2356.6 1911.1h6.2M1987.5 1921.4h-6.2M2356.6 1921.4h6.2M1987.5 1931.7h-6.2M2356.6 1931.7h6.2M1987.5 1941.9h-6.2M2356.6 1941.9h6.2M1987.5 1952.2h-6.2M2356.6 1952.2h6.2M1987.5 1962.5h-6.2M2356.6 1962.5h6.2M1987.5 1972.8h-6.2M2356.6 1972.8h6.2M1987.5 1983.1h-6.2M2356.6 1983.1h6.2M1987.5 1993.3h-6.2M2356.6 1993.3h6.2M1987.5 2003.6h-6.2M2356.6 2003.6h6.2M1987.5 2013.9h-6.2M2356.6 2013.9h6.2M1987.5 2024.2h-6.2M2356.6 2024.2h6.2M1987.5 2034.4h-6.2M2356.6 2034.4h6.2M1987.5 2044.7h-6.2M2356.6 2044.7h6.2M1987.5 2055h-6.2M2356.6 2055h6.2M1987.5 2065.3h-6.2M2356.6 2065.3h6.2M1987.5 2075.5h-6.2M2356.6 2075.5h6.2M1987.5 2085.8h-6.2M2356.6 2085.8h6.2M1987.5 2096.1h-6.2M2356.6 2096.1h6.2M1987.5 2106.4h-6.2M2356.6 2106.4h6.2M1987.5 2116.7h-6.2M2356.6 2116.7h6.2M1987.5 2126.9h-6.2M2356.6 2126.9h6.2M1987.5 2137.2h-6.2M2356.6 2137.2h6.2M1987.5 2147.5h-6.2M2356.6 2147.5h6.2M1987.5 2157.8h-6.2M2356.6 2157.8h6.2M1987.5 2168h-6.2M2356.6 2168h6.2M1987.5 2178.3h-6.2M2356.6 2178.3h6.2M1987.5 2188.6h-6.2M2356.6 2188.6h6.2M1987.5 2198.9h-6.2M2356.6 2198.9h6.2M1987.5 2209.1h-6.2M2356.6 2209.1h6.2M1987.5 2219.4h-6.2M2356.6 2219.4h6.2M1987.5 2229.7h-6.2M2356.6 2229.7h6.2M1987.5 2240h-6.2M2356.6 2240h6.2M1987.5 2250.3h-6.2M2356.6 2250.3h6.2M1987.5 2260.5h-6.2M2356.6 2260.5h6.2M1987.5 2270.8h-6.2M2356.6 2270.8h6.2M1987.5 2281.1h-6.2M2356.6 2281.1h6.2M1987.5 2291.4h-6.2M2356.6 2291.4h6.2M1987.5 2301.6h-6.2M2356.6 2301.6h6.2M1987.5 2311.9h-6.2M2356.6 2311.9h6.2M1987.5 2322.2h-6.2M2356.6 2322.2h6.2M1987.5 2332.5h-6.2M2356.6 2332.5h6.2M1987.5 2342.7h-6.2M2356.6 2342.7h6.2M1987.5 2353h-6.2M2356.6 2353h6.2M1987.5 2363.3h-6.2M2356.6 2363.3h6.2" stroke="#5e5e5e" stroke-width="2" fill="none"/>
<path d="M1987.5 1335.6v-11.3M1987.5 2363.3v11.3M2110.5 1335.6v-11.3M2110.5 2363.3v11.3M2233.6 1335.6v-11.3M2233.6 2363.3v11.3M2356.6 1335.6v-11.3M2356.6 2363.3v11.3M1987.5 1335.6h-11.7M2356.6 1335.6h11.7M1987.5 1438.4h-11.7M2356.6 1438.4h11.7M1987.5 1541.1h-11.7M2356.6 1541.1h11.7M1987.5 1643.9h-11.7M2356.6 1643.9h11.7M1987.5 1746.7h-11.7M2356.6 1746.7h11.7M1987.5 1849.5h-11.7M2356.6 1849.5h11.7M1987.5 1952.2h-11.7M2356.6 1952.2h11.7M1987.5 2055h-11.7M2356.6 2055h11.7M1987.5 2157.8h-11.7M2356.6 2157.8h11.7M1987.5 2260.5h-11.7M2356.6 2260.5h11.7M1987.5 2363.3h-11.7M2356.6 2363.3h11.7" stroke="#5e5e5e" stroke-width="2.1" fill="none"/>
<rect x="1987.5" y="1335.6" width="369.1" height="1027.7" fill="none" stroke="#5e5e5e" stroke-width="2.5"/>
<g fill="#000"><circle cx="2344.8" cy="1335.6" r="5.3"/><circle cx="2345.1" cy="1338.2" r="5.3"/><circle cx="2345.2" cy="1340.7" r="5.3"/><circle cx="2344.5" cy="1345.9" r="5.3"/><circle cx="2343.1" cy="1351" r="5.3"/><circle cx="2340.4" cy="1356.2" r="5.3"/><circle cx="2335.9" cy="1361.3" r="5.3"/><circle cx="2327.9" cy="1366.4" r="5.3"/><circle cx="2315.4" cy="1371.6" r="5.3"/><circle cx="2299.5" cy="1376.7" r="5.3"/><circle cx="2280.5" cy="1381.8" r="5.3"/><circle cx="2259.6" cy="1387" r="5.3"/><circle cx="2240.2" cy="1392.1" r="5.3"/><circle cx="2222.8" cy="1397.3" r="5.3"/><circle cx="2207.3" cy="1402.4" r="5.3"/><circle cx="2195.9" cy="1407.5" r="5.3"/><circle cx="2185.1" cy="1412.7" r="5.3"/><circle cx="2176.8" cy="1417.8" r="5.3"/><circle cx="2169.6" cy="1423" r="5.3"/><circle cx="2164.1" cy="1428.1" r="5.3"/><circle cx="2155.8" cy="1438.4" r="5.3"/><circle cx="2148.8" cy="1448.6" r="5.3"/><circle cx="2143.3" cy="1458.9" r="5.3"/><circle cx="2138.4" cy="1469.2" r="5.3"/><circle cx="2135.7" cy="1479.5" r="5.3"/><circle cx="2132.5" cy="1489.8" r="5.3"/><circle cx="2129.6" cy="1500" r="5.3"/><circle cx="2126.9" cy="1510.3" r="5.3"/><circle cx="2124.7" cy="1520.6" r="5.3"/><circle cx="2122.1" cy="1530.9" r="5.3"/><circle cx="2120.4" cy="1541.1" r="5.3"/><circle cx="2118.1" cy="1551.4" r="5.3"/><circle cx="2116.2" cy="1561.7" r="5.3"/><circle cx="2114.6" cy="1572" r="5.3"/><circle cx="2111" cy="1592.5" r="5.3"/><circle cx="2107.4" cy="1618.2" r="5.3"/><circle cx="2103.2" cy="1643.9" r="5.3"/><circle cx="2099.2" cy="1669.6" r="5.3"/><circle cx="2095" cy="1695.3" r="5.3"/><circle cx="2091.1" cy="1721" r="5.3"/><circle cx="2086.9" cy="1746.7" r="5.3"/><circle cx="2082.6" cy="1772.4" r="5.3"/><circle cx="2078.1" cy="1798.1" r="5.3"/><circle cx="2074.8" cy="1823.8" r="5.3"/><circle cx="2071.5" cy="1849.5" r="5.3"/><circle cx="2067.6" cy="1875.1" r="5.3"/><circle cx="2064.4" cy="1900.8" r="5.3"/><circle cx="2060.8" cy="1926.5" r="5.3"/><circle cx="2057.5" cy="1952.2" r="5.3"/><circle cx="2054.6" cy="1977.9" r="5.3"/><circle cx="2051.3" cy="2003.6" r="5.3"/><circle cx="2046.4" cy="2055" r="5.3"/><circle cx="2040.6" cy="2106.4" r="5.3"/><circle cx="2035.7" cy="2157.8" r="5.3"/><circle cx="2031.1" cy="2209.1" r="5.3"/><circle cx="2027.2" cy="2260.5" r="5.3"/><circle cx="2023.6" cy="2311.9" r="5.3"/><circle cx="2021.7" cy="2350.5" r="5.3"/></g>
<g fill="#d6000c"><circle cx="2336.9" cy="1338.2" r="5.3"/><circle cx="2336.5" cy="1340.7" r="5.3"/><circle cx="2335.5" cy="1345.9" r="5.3"/><circle cx="2334.1" cy="1351" r="5.3"/><circle cx="2332" cy="1356.2" r="5.3"/><circle cx="2329.6" cy="1361.3" r="5.3"/><circle cx="2326.2" cy="1366.4" r="5.3"/><circle cx="2321.7" cy="1371.6" r="5.3"/><circle cx="2316.1" cy="1376.7" r="5.3"/><circle cx="2310.1" cy="1381.8" r="5.3"/><circle cx="2302.9" cy="1387" r="5.3"/><circle cx="2293.9" cy="1392.1" r="5.3"/><circle cx="2284.2" cy="1397.3" r="5.3"/><circle cx="2273.8" cy="1402.4" r="5.3"/><circle cx="2263.2" cy="1407.5" r="5.3"/><circle cx="2252.6" cy="1412.7" r="5.3"/><circle cx="2242.9" cy="1417.8" r="5.3"/><circle cx="2233.4" cy="1423" r="5.3"/><circle cx="2225.3" cy="1428.1" r="5.3"/><circle cx="2210.1" cy="1438.4" r="5.3"/><circle cx="2197.3" cy="1448.6" r="5.3"/><circle cx="2186.2" cy="1458.9" r="5.3"/><circle cx="2176.8" cy="1469.2" r="5.3"/><circle cx="2169.3" cy="1479.5" r="5.3"/><circle cx="2162.8" cy="1489.8" r="5.3"/><circle cx="2156.9" cy="1500" r="5.3"/><circle cx="2152" cy="1510.3" r="5.3"/><circle cx="2147.5" cy="1520.6" r="5.3"/><circle cx="2143.2" cy="1530.9" r="5.3"/><circle cx="2140" cy="1541.1" r="5.3"/><circle cx="2136.7" cy="1551.4" r="5.3"/><circle cx="2134.1" cy="1561.7" r="5.3"/><circle cx="2131.2" cy="1572" r="5.3"/><circle cx="2126" cy="1592.5" r="5.3"/><circle cx="2121.1" cy="1618.2" r="5.3"/><circle cx="2115.5" cy="1643.9" r="5.3"/><circle cx="2111.3" cy="1669.6" r="5.3"/><circle cx="2107.4" cy="1695.3" r="5.3"/><circle cx="2103.2" cy="1721" r="5.3"/><circle cx="2098.9" cy="1746.7" r="5.3"/><circle cx="2094.4" cy="1772.4" r="5.3"/><circle cx="2090.4" cy="1798.1" r="5.3"/><circle cx="2086.2" cy="1823.8" r="5.3"/><circle cx="2082.6" cy="1849.5" r="5.3"/><circle cx="2078.7" cy="1875.1" r="5.3"/><circle cx="2074.8" cy="1900.8" r="5.3"/><circle cx="2070.9" cy="1926.5" r="5.3"/><circle cx="2067.3" cy="1952.2" r="5.3"/><circle cx="2064" cy="1977.9" r="5.3"/><circle cx="2061.1" cy="2003.6" r="5.3"/><circle cx="2054.3" cy="2055" r="5.3"/><circle cx="2049.4" cy="2106.4" r="5.3"/><circle cx="2044.8" cy="2157.8" r="5.3"/><circle cx="2040.9" cy="2209.1" r="5.3"/><circle cx="2037.3" cy="2260.5" r="5.3"/><circle cx="2034.4" cy="2311.9" r="5.3"/></g>
<g class="tk" text-anchor="end"><text x="1962.8" y="1351.6">0</text><text x="1962.8" y="1454.4">-200</text><text x="1962.8" y="1557.1">-400</text><text x="1962.8" y="1659.9">-600</text><text x="1962.8" y="1762.7">-800</text><text x="1962.8" y="1865.5">-1000</text><text x="1962.8" y="1968.2">-1200</text><text x="1962.8" y="2071">-1400</text><text x="1962.8" y="2173.8">-1600</text><text x="1962.8" y="2276.5">-1800</text><text x="1962.8" y="2379.3">-2000</text></g>
<g class="tk" text-anchor="middle"><text x="1987.5" y="2429.3">0</text><text x="2110.5" y="2429.3">10</text><text x="2233.6" y="2429.3">20</text><text x="2356.6" y="2429.3">30</text></g>
<text class="tt" x="2171.4" y="1322">A8</text>
<text class="lb" x="2172.1" y="2483.8"><tspan class="th">θ</tspan> [°]</text>
</g>
<rect x="630.6" y="1723.2" width="5.8" height="10.6" fill="#474747"/><rect x="630.6" y="1777.3" width="5.8" height="10.6" fill="#474747"/>
</svg></body></html>
